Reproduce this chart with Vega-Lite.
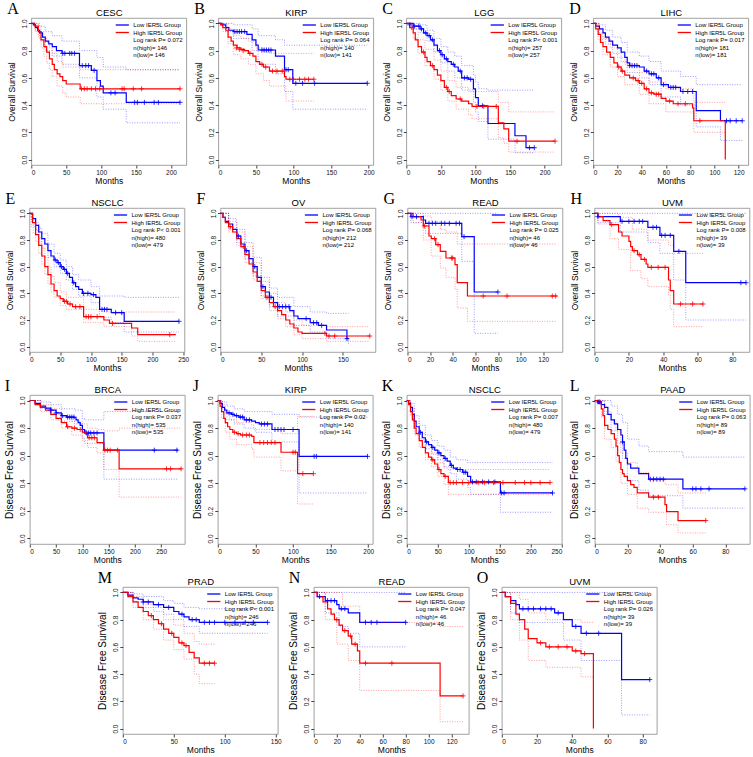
{
"$schema":"https://vega.github.io/schema/vega-lite/v6.json",
"padding":{"left":4,"top":0,"right":2,"bottom":0},
"background":"white",
"config":{
"view":{"stroke":"#8a8a8a","strokeWidth":0.8},
"range":{"category":["#0000ff","#ff0000","transparent","transparent","transparent"]},
"title":{"anchor":"start","frame":"bounds","font":"Liberation Serif","fontSize":16,"fontWeight":"normal","offset":-10,"color":"#000"},
"axis":{"labelFont":"Liberation Sans","labelFontSize":6.5,"titleFont":"Liberation Sans","titleFontSize":8.5,"titleFontWeight":"normal","tickSize":3,"tickColor":"#444","labelColor":"#111","titleColor":"#000","domain":false,"grid":false,"labelPadding":1},
"axisX":{"titlePadding":1},
"axisY":{"labelAngle":270,"labelAlign":"center","labelBaseline":"bottom","titlePadding":5},
"legend":{"orient":"top-right","offset":3,"padding":0,"labelFont":"Liberation Sans","labelFontSize":6,"labelColor":"#000","symbolType":"M-2.2,0H2.2","symbolSize":36,"symbolStrokeWidth":1.3,"symbolOpacity":1,"rowPadding":0.5,"labelOffset":7,"labelLimit":0}
},
"datasets":{
"km":[
{"p":"A","g":"L","t":0,"s":1},{"p":"A","g":"L","t":3,"s":0.99},{"p":"A","g":"L","t":6,"s":0.97},{"p":"A","g":"L","t":9,"s":0.95},{"p":"A","g":"L","t":12,"s":0.93},{"p":"A","g":"L","t":16,"s":0.9},{"p":"A","g":"L","t":20,"s":0.87},{"p":"A","g":"L","t":25,"s":0.85},{"p":"A","g":"L","t":30,"s":0.83},{"p":"A","g":"L","t":36,"s":0.8},{"p":"A","g":"L","t":44,"s":0.78},{"p":"A","g":"L","t":69,"s":0.69},{"p":"A","g":"L","t":86,"s":0.655},{"p":"A","g":"L","t":94,"s":0.58},{"p":"A","g":"L","t":99,"s":0.54},{"p":"A","g":"L","t":103,"s":0.49},{"p":"A","g":"L","t":136,"s":0.42},{"p":"A","g":"L","t":213,"s":0.42},
{"p":"A","g":"H","t":0,"s":1},{"p":"A","g":"H","t":5,"s":0.98},{"p":"A","g":"H","t":10,"s":0.94},{"p":"A","g":"H","t":14,"s":0.88},{"p":"A","g":"H","t":18,"s":0.83},{"p":"A","g":"H","t":22,"s":0.79},{"p":"A","g":"H","t":26,"s":0.74},{"p":"A","g":"H","t":30,"s":0.7},{"p":"A","g":"H","t":33,"s":0.66},{"p":"A","g":"H","t":37,"s":0.63},{"p":"A","g":"H","t":41,"s":0.61},{"p":"A","g":"H","t":45,"s":0.58},{"p":"A","g":"H","t":50,"s":0.555},{"p":"A","g":"H","t":70,"s":0.52},{"p":"A","g":"H","t":213,"s":0.52},
{"p":"B","g":"L","t":0,"s":1},{"p":"B","g":"L","t":5,"s":0.99},{"p":"B","g":"L","t":10,"s":0.97},{"p":"B","g":"L","t":14,"s":0.95},{"p":"B","g":"L","t":20,"s":0.94},{"p":"B","g":"L","t":38,"s":0.92},{"p":"B","g":"L","t":45,"s":0.88},{"p":"B","g":"L","t":50,"s":0.84},{"p":"B","g":"L","t":53,"s":0.805},{"p":"B","g":"L","t":76,"s":0.76},{"p":"B","g":"L","t":88,"s":0.66},{"p":"B","g":"L","t":99,"s":0.56},{"p":"B","g":"L","t":198,"s":0.56},
{"p":"B","g":"H","t":0,"s":1},{"p":"B","g":"H","t":3,"s":0.99},{"p":"B","g":"H","t":6,"s":0.97},{"p":"B","g":"H","t":10,"s":0.95},{"p":"B","g":"H","t":13,"s":0.9},{"p":"B","g":"H","t":17,"s":0.87},{"p":"B","g":"H","t":20,"s":0.84},{"p":"B","g":"H","t":25,"s":0.82},{"p":"B","g":"H","t":30,"s":0.81},{"p":"B","g":"H","t":35,"s":0.8},{"p":"B","g":"H","t":40,"s":0.78},{"p":"B","g":"H","t":46,"s":0.76},{"p":"B","g":"H","t":50,"s":0.72},{"p":"B","g":"H","t":55,"s":0.7},{"p":"B","g":"H","t":60,"s":0.68},{"p":"B","g":"H","t":68,"s":0.65},{"p":"B","g":"H","t":88,"s":0.61},{"p":"B","g":"H","t":90,"s":0.59},{"p":"B","g":"H","t":127,"s":0.59},
{"p":"C","g":"L","t":0,"s":1},{"p":"C","g":"L","t":10,"s":0.98},{"p":"C","g":"L","t":20,"s":0.96},{"p":"C","g":"L","t":25,"s":0.93},{"p":"C","g":"L","t":30,"s":0.91},{"p":"C","g":"L","t":35,"s":0.88},{"p":"C","g":"L","t":40,"s":0.84},{"p":"C","g":"L","t":45,"s":0.8},{"p":"C","g":"L","t":50,"s":0.77},{"p":"C","g":"L","t":55,"s":0.74},{"p":"C","g":"L","t":60,"s":0.72},{"p":"C","g":"L","t":65,"s":0.7},{"p":"C","g":"L","t":70,"s":0.68},{"p":"C","g":"L","t":75,"s":0.65},{"p":"C","g":"L","t":80,"s":0.6},{"p":"C","g":"L","t":90,"s":0.59},{"p":"C","g":"L","t":97,"s":0.52},{"p":"C","g":"L","t":100,"s":0.455},{"p":"C","g":"L","t":104,"s":0.395},{"p":"C","g":"L","t":118,"s":0.265},{"p":"C","g":"L","t":157,"s":0.175},{"p":"C","g":"L","t":173,"s":0.087},{"p":"C","g":"L","t":185,"s":0.087},
{"p":"C","g":"H","t":0,"s":1},{"p":"C","g":"H","t":5,"s":0.97},{"p":"C","g":"H","t":10,"s":0.93},{"p":"C","g":"H","t":13,"s":0.88},{"p":"C","g":"H","t":17,"s":0.83},{"p":"C","g":"H","t":22,"s":0.79},{"p":"C","g":"H","t":27,"s":0.75},{"p":"C","g":"H","t":30,"s":0.72},{"p":"C","g":"H","t":35,"s":0.69},{"p":"C","g":"H","t":40,"s":0.66},{"p":"C","g":"H","t":45,"s":0.62},{"p":"C","g":"H","t":50,"s":0.58},{"p":"C","g":"H","t":55,"s":0.53},{"p":"C","g":"H","t":60,"s":0.5},{"p":"C","g":"H","t":65,"s":0.47},{"p":"C","g":"H","t":72,"s":0.445},{"p":"C","g":"H","t":80,"s":0.43},{"p":"C","g":"H","t":90,"s":0.41},{"p":"C","g":"H","t":95,"s":0.39},{"p":"C","g":"H","t":133,"s":0.27},{"p":"C","g":"H","t":141,"s":0.225},{"p":"C","g":"H","t":148,"s":0.135},{"p":"C","g":"H","t":215,"s":0.135},
{"p":"D","g":"L","t":0,"s":1},{"p":"D","g":"L","t":2,"s":0.98},{"p":"D","g":"L","t":5,"s":0.96},{"p":"D","g":"L","t":8,"s":0.93},{"p":"D","g":"L","t":10,"s":0.9},{"p":"D","g":"L","t":13,"s":0.87},{"p":"D","g":"L","t":16,"s":0.84},{"p":"D","g":"L","t":20,"s":0.82},{"p":"D","g":"L","t":23,"s":0.79},{"p":"D","g":"L","t":26,"s":0.75},{"p":"D","g":"L","t":28,"s":0.71},{"p":"D","g":"L","t":30,"s":0.69},{"p":"D","g":"L","t":38,"s":0.68},{"p":"D","g":"L","t":42,"s":0.65},{"p":"D","g":"L","t":46,"s":0.63},{"p":"D","g":"L","t":52,"s":0.6},{"p":"D","g":"L","t":56,"s":0.55},{"p":"D","g":"L","t":62,"s":0.53},{"p":"D","g":"L","t":72,"s":0.5},{"p":"D","g":"L","t":85,"s":0.36},{"p":"D","g":"L","t":105,"s":0.285},{"p":"D","g":"L","t":123,"s":0.285},
{"p":"D","g":"H","t":0,"s":1},{"p":"D","g":"H","t":2,"s":0.96},{"p":"D","g":"H","t":4,"s":0.92},{"p":"D","g":"H","t":6,"s":0.86},{"p":"D","g":"H","t":8,"s":0.83},{"p":"D","g":"H","t":11,"s":0.79},{"p":"D","g":"H","t":14,"s":0.75},{"p":"D","g":"H","t":17,"s":0.71},{"p":"D","g":"H","t":20,"s":0.68},{"p":"D","g":"H","t":23,"s":0.65},{"p":"D","g":"H","t":26,"s":0.62},{"p":"D","g":"H","t":30,"s":0.6},{"p":"D","g":"H","t":35,"s":0.58},{"p":"D","g":"H","t":38,"s":0.56},{"p":"D","g":"H","t":42,"s":0.52},{"p":"D","g":"H","t":46,"s":0.49},{"p":"D","g":"H","t":50,"s":0.48},{"p":"D","g":"H","t":56,"s":0.45},{"p":"D","g":"H","t":60,"s":0.43},{"p":"D","g":"H","t":66,"s":0.41},{"p":"D","g":"H","t":82,"s":0.38},{"p":"D","g":"H","t":83,"s":0.285},{"p":"D","g":"H","t":109,"s":0},
{"p":"E","g":"L","t":0,"s":1},{"p":"E","g":"L","t":5,"s":0.96},{"p":"E","g":"L","t":10,"s":0.91},{"p":"E","g":"L","t":15,"s":0.86},{"p":"E","g":"L","t":20,"s":0.81},{"p":"E","g":"L","t":25,"s":0.77},{"p":"E","g":"L","t":30,"s":0.72},{"p":"E","g":"L","t":35,"s":0.68},{"p":"E","g":"L","t":40,"s":0.65},{"p":"E","g":"L","t":45,"s":0.63},{"p":"E","g":"L","t":50,"s":0.6},{"p":"E","g":"L","t":55,"s":0.58},{"p":"E","g":"L","t":60,"s":0.55},{"p":"E","g":"L","t":65,"s":0.52},{"p":"E","g":"L","t":70,"s":0.48},{"p":"E","g":"L","t":75,"s":0.45},{"p":"E","g":"L","t":80,"s":0.43},{"p":"E","g":"L","t":86,"s":0.4},{"p":"E","g":"L","t":100,"s":0.39},{"p":"E","g":"L","t":108,"s":0.37},{"p":"E","g":"L","t":114,"s":0.28},{"p":"E","g":"L","t":133,"s":0.255},{"p":"E","g":"L","t":154,"s":0.19},{"p":"E","g":"L","t":243,"s":0.19},
{"p":"E","g":"H","t":0,"s":1},{"p":"E","g":"H","t":5,"s":0.93},{"p":"E","g":"H","t":10,"s":0.84},{"p":"E","g":"H","t":15,"s":0.76},{"p":"E","g":"H","t":20,"s":0.68},{"p":"E","g":"H","t":25,"s":0.6},{"p":"E","g":"H","t":30,"s":0.54},{"p":"E","g":"H","t":35,"s":0.47},{"p":"E","g":"H","t":40,"s":0.42},{"p":"E","g":"H","t":45,"s":0.38},{"p":"E","g":"H","t":50,"s":0.36},{"p":"E","g":"H","t":55,"s":0.34},{"p":"E","g":"H","t":62,"s":0.32},{"p":"E","g":"H","t":70,"s":0.3},{"p":"E","g":"H","t":88,"s":0.225},{"p":"E","g":"H","t":121,"s":0.2},{"p":"E","g":"H","t":130,"s":0.175},{"p":"E","g":"H","t":166,"s":0.14},{"p":"E","g":"H","t":176,"s":0.09},{"p":"E","g":"H","t":238,"s":0.09},
{"p":"F","g":"L","t":0,"s":1},{"p":"F","g":"L","t":3,"s":0.97},{"p":"F","g":"L","t":6,"s":0.94},{"p":"F","g":"L","t":10,"s":0.92},{"p":"F","g":"L","t":15,"s":0.88},{"p":"F","g":"L","t":20,"s":0.83},{"p":"F","g":"L","t":25,"s":0.77},{"p":"F","g":"L","t":30,"s":0.72},{"p":"F","g":"L","t":35,"s":0.66},{"p":"F","g":"L","t":40,"s":0.6},{"p":"F","g":"L","t":45,"s":0.52},{"p":"F","g":"L","t":50,"s":0.45},{"p":"F","g":"L","t":55,"s":0.41},{"p":"F","g":"L","t":60,"s":0.37},{"p":"F","g":"L","t":65,"s":0.33},{"p":"F","g":"L","t":70,"s":0.3},{"p":"F","g":"L","t":85,"s":0.27},{"p":"F","g":"L","t":90,"s":0.23},{"p":"F","g":"L","t":95,"s":0.21},{"p":"F","g":"L","t":110,"s":0.18},{"p":"F","g":"L","t":120,"s":0.16},{"p":"F","g":"L","t":130,"s":0.125},{"p":"F","g":"L","t":155,"s":0.06},{"p":"F","g":"L","t":157,"s":0.06},
{"p":"F","g":"H","t":0,"s":1},{"p":"F","g":"H","t":3,"s":0.97},{"p":"F","g":"H","t":6,"s":0.93},{"p":"F","g":"H","t":10,"s":0.9},{"p":"F","g":"H","t":15,"s":0.86},{"p":"F","g":"H","t":20,"s":0.81},{"p":"F","g":"H","t":25,"s":0.75},{"p":"F","g":"H","t":30,"s":0.69},{"p":"F","g":"H","t":35,"s":0.62},{"p":"F","g":"H","t":40,"s":0.56},{"p":"F","g":"H","t":45,"s":0.49},{"p":"F","g":"H","t":50,"s":0.42},{"p":"F","g":"H","t":55,"s":0.37},{"p":"F","g":"H","t":60,"s":0.33},{"p":"F","g":"H","t":65,"s":0.3},{"p":"F","g":"H","t":70,"s":0.27},{"p":"F","g":"H","t":75,"s":0.24},{"p":"F","g":"H","t":80,"s":0.2},{"p":"F","g":"H","t":85,"s":0.17},{"p":"F","g":"H","t":90,"s":0.14},{"p":"F","g":"H","t":95,"s":0.11},{"p":"F","g":"H","t":100,"s":0.1},{"p":"F","g":"H","t":130,"s":0.08},{"p":"F","g":"H","t":183,"s":0.08},
{"p":"G","g":"L","t":0,"s":1},{"p":"G","g":"L","t":3,"s":0.975},{"p":"G","g":"L","t":14,"s":0.95},{"p":"G","g":"L","t":16,"s":0.925},{"p":"G","g":"L","t":48,"s":0.825},{"p":"G","g":"L","t":59,"s":0.41},{"p":"G","g":"L","t":80,"s":0.41},
{"p":"G","g":"H","t":0,"s":1},{"p":"G","g":"H","t":5,"s":0.975},{"p":"G","g":"H","t":12,"s":0.95},{"p":"G","g":"H","t":14,"s":0.905},{"p":"G","g":"H","t":19,"s":0.83},{"p":"G","g":"H","t":21,"s":0.81},{"p":"G","g":"H","t":25,"s":0.765},{"p":"G","g":"H","t":29,"s":0.715},{"p":"G","g":"H","t":34,"s":0.665},{"p":"G","g":"H","t":42,"s":0.615},{"p":"G","g":"H","t":44,"s":0.48},{"p":"G","g":"H","t":53,"s":0.38},{"p":"G","g":"H","t":132,"s":0.38},
{"p":"H","g":"L","t":0,"s":1},{"p":"H","g":"L","t":2,"s":0.975},{"p":"H","g":"L","t":15,"s":0.94},{"p":"H","g":"L","t":31,"s":0.895},{"p":"H","g":"L","t":38,"s":0.835},{"p":"H","g":"L","t":46,"s":0.715},{"p":"H","g":"L","t":53,"s":0.48},{"p":"H","g":"L","t":88,"s":0.48},
{"p":"H","g":"H","t":0,"s":1},{"p":"H","g":"H","t":2,"s":0.975},{"p":"H","g":"H","t":5,"s":0.945},{"p":"H","g":"H","t":9,"s":0.915},{"p":"H","g":"H","t":14,"s":0.86},{"p":"H","g":"H","t":16,"s":0.83},{"p":"H","g":"H","t":20,"s":0.79},{"p":"H","g":"H","t":21,"s":0.75},{"p":"H","g":"H","t":22,"s":0.72},{"p":"H","g":"H","t":25,"s":0.69},{"p":"H","g":"H","t":27,"s":0.655},{"p":"H","g":"H","t":30,"s":0.62},{"p":"H","g":"H","t":31,"s":0.595},{"p":"H","g":"H","t":43,"s":0.5},{"p":"H","g":"H","t":44,"s":0.42},{"p":"H","g":"H","t":46,"s":0.32},{"p":"H","g":"H","t":63,"s":0.32},
{"p":"I","g":"L","t":0,"s":1},{"p":"I","g":"L","t":10,"s":0.98},{"p":"I","g":"L","t":20,"s":0.96},{"p":"I","g":"L","t":30,"s":0.945},{"p":"I","g":"L","t":40,"s":0.93},{"p":"I","g":"L","t":50,"s":0.91},{"p":"I","g":"L","t":60,"s":0.89},{"p":"I","g":"L","t":70,"s":0.88},{"p":"I","g":"L","t":85,"s":0.875},{"p":"I","g":"L","t":88,"s":0.86},{"p":"I","g":"L","t":92,"s":0.84},{"p":"I","g":"L","t":96,"s":0.82},{"p":"I","g":"L","t":100,"s":0.79},{"p":"I","g":"L","t":104,"s":0.765},{"p":"I","g":"L","t":141,"s":0.64},{"p":"I","g":"L","t":282,"s":0.64},
{"p":"I","g":"H","t":0,"s":1},{"p":"I","g":"H","t":10,"s":0.97},{"p":"I","g":"H","t":20,"s":0.95},{"p":"I","g":"H","t":30,"s":0.93},{"p":"I","g":"H","t":40,"s":0.9},{"p":"I","g":"H","t":50,"s":0.87},{"p":"I","g":"H","t":60,"s":0.84},{"p":"I","g":"H","t":70,"s":0.81},{"p":"I","g":"H","t":80,"s":0.8},{"p":"I","g":"H","t":90,"s":0.79},{"p":"I","g":"H","t":100,"s":0.77},{"p":"I","g":"H","t":110,"s":0.73},{"p":"I","g":"H","t":128,"s":0.695},{"p":"I","g":"H","t":141,"s":0.64},{"p":"I","g":"H","t":170,"s":0.505},{"p":"I","g":"H","t":288,"s":0.505},
{"p":"J","g":"L","t":0,"s":1},{"p":"J","g":"L","t":3,"s":0.98},{"p":"J","g":"L","t":6,"s":0.95},{"p":"J","g":"L","t":9,"s":0.93},{"p":"J","g":"L","t":12,"s":0.91},{"p":"J","g":"L","t":18,"s":0.9},{"p":"J","g":"L","t":22,"s":0.89},{"p":"J","g":"L","t":28,"s":0.88},{"p":"J","g":"L","t":35,"s":0.86},{"p":"J","g":"L","t":45,"s":0.85},{"p":"J","g":"L","t":50,"s":0.84},{"p":"J","g":"L","t":55,"s":0.83},{"p":"J","g":"L","t":72,"s":0.79},{"p":"J","g":"L","t":108,"s":0.595},{"p":"J","g":"L","t":199,"s":0.595},
{"p":"J","g":"H","t":0,"s":1},{"p":"J","g":"H","t":3,"s":0.96},{"p":"J","g":"H","t":5,"s":0.92},{"p":"J","g":"H","t":8,"s":0.87},{"p":"J","g":"H","t":10,"s":0.84},{"p":"J","g":"H","t":13,"s":0.81},{"p":"J","g":"H","t":16,"s":0.79},{"p":"J","g":"H","t":20,"s":0.77},{"p":"J","g":"H","t":25,"s":0.76},{"p":"J","g":"H","t":30,"s":0.75},{"p":"J","g":"H","t":45,"s":0.74},{"p":"J","g":"H","t":48,"s":0.695},{"p":"J","g":"H","t":84,"s":0.625},{"p":"J","g":"H","t":106,"s":0.47},{"p":"J","g":"H","t":127,"s":0.47},
{"p":"K","g":"L","t":0,"s":1},{"p":"K","g":"L","t":3,"s":0.98},{"p":"K","g":"L","t":6,"s":0.95},{"p":"K","g":"L","t":9,"s":0.9},{"p":"K","g":"L","t":12,"s":0.85},{"p":"K","g":"L","t":15,"s":0.81},{"p":"K","g":"L","t":20,"s":0.77},{"p":"K","g":"L","t":25,"s":0.73},{"p":"K","g":"L","t":30,"s":0.7},{"p":"K","g":"L","t":35,"s":0.68},{"p":"K","g":"L","t":40,"s":0.66},{"p":"K","g":"L","t":45,"s":0.64},{"p":"K","g":"L","t":50,"s":0.62},{"p":"K","g":"L","t":55,"s":0.6},{"p":"K","g":"L","t":60,"s":0.58},{"p":"K","g":"L","t":65,"s":0.56},{"p":"K","g":"L","t":70,"s":0.53},{"p":"K","g":"L","t":75,"s":0.51},{"p":"K","g":"L","t":80,"s":0.5},{"p":"K","g":"L","t":90,"s":0.48},{"p":"K","g":"L","t":98,"s":0.45},{"p":"K","g":"L","t":103,"s":0.41},{"p":"K","g":"L","t":151,"s":0.33},{"p":"K","g":"L","t":235,"s":0.33},
{"p":"K","g":"H","t":0,"s":1},{"p":"K","g":"H","t":3,"s":0.97},{"p":"K","g":"H","t":6,"s":0.92},{"p":"K","g":"H","t":9,"s":0.86},{"p":"K","g":"H","t":12,"s":0.8},{"p":"K","g":"H","t":15,"s":0.76},{"p":"K","g":"H","t":20,"s":0.71},{"p":"K","g":"H","t":25,"s":0.66},{"p":"K","g":"H","t":30,"s":0.62},{"p":"K","g":"H","t":35,"s":0.59},{"p":"K","g":"H","t":40,"s":0.57},{"p":"K","g":"H","t":45,"s":0.54},{"p":"K","g":"H","t":50,"s":0.5},{"p":"K","g":"H","t":55,"s":0.47},{"p":"K","g":"H","t":60,"s":0.45},{"p":"K","g":"H","t":67,"s":0.405},{"p":"K","g":"H","t":231,"s":0.405},
{"p":"L","g":"L","t":0,"s":1},{"p":"L","g":"L","t":2,"s":0.99},{"p":"L","g":"L","t":4,"s":0.97},{"p":"L","g":"L","t":6,"s":0.95},{"p":"L","g":"L","t":8,"s":0.9},{"p":"L","g":"L","t":10,"s":0.86},{"p":"L","g":"L","t":12,"s":0.83},{"p":"L","g":"L","t":14,"s":0.79},{"p":"L","g":"L","t":16,"s":0.75},{"p":"L","g":"L","t":17,"s":0.7},{"p":"L","g":"L","t":18,"s":0.64},{"p":"L","g":"L","t":19,"s":0.58},{"p":"L","g":"L","t":20,"s":0.54},{"p":"L","g":"L","t":22,"s":0.51},{"p":"L","g":"L","t":27,"s":0.47},{"p":"L","g":"L","t":33,"s":0.43},{"p":"L","g":"L","t":54,"s":0.36},{"p":"L","g":"L","t":92,"s":0.36},
{"p":"L","g":"H","t":0,"s":1},{"p":"L","g":"H","t":2,"s":0.98},{"p":"L","g":"H","t":4,"s":0.94},{"p":"L","g":"H","t":5,"s":0.89},{"p":"L","g":"H","t":6,"s":0.82},{"p":"L","g":"H","t":8,"s":0.79},{"p":"L","g":"H","t":10,"s":0.76},{"p":"L","g":"H","t":12,"s":0.72},{"p":"L","g":"H","t":13,"s":0.67},{"p":"L","g":"H","t":14,"s":0.6},{"p":"L","g":"H","t":15,"s":0.55},{"p":"L","g":"H","t":16,"s":0.5},{"p":"L","g":"H","t":17,"s":0.47},{"p":"L","g":"H","t":18,"s":0.45},{"p":"L","g":"H","t":20,"s":0.42},{"p":"L","g":"H","t":22,"s":0.39},{"p":"L","g":"H","t":24,"s":0.37},{"p":"L","g":"H","t":26,"s":0.33},{"p":"L","g":"H","t":33,"s":0.3},{"p":"L","g":"H","t":43,"s":0.245},{"p":"L","g":"H","t":44,"s":0.195},{"p":"L","g":"H","t":51,"s":0.13},{"p":"L","g":"H","t":68,"s":0.13},
{"p":"M","g":"L","t":0,"s":1},{"p":"M","g":"L","t":5,"s":0.98},{"p":"M","g":"L","t":10,"s":0.96},{"p":"M","g":"L","t":15,"s":0.95},{"p":"M","g":"L","t":20,"s":0.93},{"p":"M","g":"L","t":30,"s":0.91},{"p":"M","g":"L","t":40,"s":0.89},{"p":"M","g":"L","t":50,"s":0.86},{"p":"M","g":"L","t":55,"s":0.84},{"p":"M","g":"L","t":60,"s":0.82},{"p":"M","g":"L","t":65,"s":0.8},{"p":"M","g":"L","t":75,"s":0.78},{"p":"M","g":"L","t":142,"s":0.78},
{"p":"M","g":"H","t":0,"s":1},{"p":"M","g":"H","t":5,"s":0.97},{"p":"M","g":"H","t":10,"s":0.93},{"p":"M","g":"H","t":15,"s":0.89},{"p":"M","g":"H","t":20,"s":0.86},{"p":"M","g":"H","t":25,"s":0.83},{"p":"M","g":"H","t":30,"s":0.8},{"p":"M","g":"H","t":35,"s":0.77},{"p":"M","g":"H","t":40,"s":0.73},{"p":"M","g":"H","t":45,"s":0.7},{"p":"M","g":"H","t":50,"s":0.67},{"p":"M","g":"H","t":55,"s":0.63},{"p":"M","g":"H","t":60,"s":0.61},{"p":"M","g":"H","t":65,"s":0.56},{"p":"M","g":"H","t":70,"s":0.52},{"p":"M","g":"H","t":75,"s":0.48},{"p":"M","g":"H","t":90,"s":0.48},
{"p":"N","g":"L","t":0,"s":1},{"p":"N","g":"L","t":3,"s":0.97},{"p":"N","g":"L","t":10,"s":0.94},{"p":"N","g":"L","t":20,"s":0.91},{"p":"N","g":"L","t":22,"s":0.88},{"p":"N","g":"L","t":30,"s":0.85},{"p":"N","g":"L","t":40,"s":0.78},{"p":"N","g":"L","t":80,"s":0.78},
{"p":"N","g":"H","t":0,"s":1},{"p":"N","g":"H","t":3,"s":0.97},{"p":"N","g":"H","t":8,"s":0.93},{"p":"N","g":"H","t":12,"s":0.88},{"p":"N","g":"H","t":15,"s":0.84},{"p":"N","g":"H","t":18,"s":0.8},{"p":"N","g":"H","t":22,"s":0.76},{"p":"N","g":"H","t":25,"s":0.72},{"p":"N","g":"H","t":30,"s":0.68},{"p":"N","g":"H","t":33,"s":0.62},{"p":"N","g":"H","t":38,"s":0.57},{"p":"N","g":"H","t":40,"s":0.48},{"p":"N","g":"H","t":110,"s":0.24},{"p":"N","g":"H","t":130,"s":0.24},
{"p":"O","g":"L","t":0,"s":1},{"p":"O","g":"L","t":2,"s":0.97},{"p":"O","g":"L","t":5,"s":0.94},{"p":"O","g":"L","t":8,"s":0.91},{"p":"O","g":"L","t":10,"s":0.88},{"p":"O","g":"L","t":30,"s":0.85},{"p":"O","g":"L","t":35,"s":0.8},{"p":"O","g":"L","t":40,"s":0.75},{"p":"O","g":"L","t":45,"s":0.7},{"p":"O","g":"L","t":68,"s":0.36},{"p":"O","g":"L","t":84,"s":0.36},
{"p":"O","g":"H","t":0,"s":1},{"p":"O","g":"H","t":2,"s":0.97},{"p":"O","g":"H","t":5,"s":0.92},{"p":"O","g":"H","t":8,"s":0.84},{"p":"O","g":"H","t":10,"s":0.8},{"p":"O","g":"H","t":13,"s":0.73},{"p":"O","g":"H","t":15,"s":0.66},{"p":"O","g":"H","t":20,"s":0.63},{"p":"O","g":"H","t":25,"s":0.6},{"p":"O","g":"H","t":40,"s":0.57},{"p":"O","g":"H","t":45,"s":0.55},{"p":"O","g":"H","t":52,"s":0}
],
"ci":[
{"p":"A","g":"L","b":"u","t":0,"s":1},{"p":"A","g":"L","b":"u","t":6,"s":1},{"p":"A","g":"L","b":"u","t":12,"s":0.98},{"p":"A","g":"L","b":"u","t":20,"s":0.94},{"p":"A","g":"L","b":"u","t":30,"s":0.91},{"p":"A","g":"L","b":"u","t":44,"s":0.87},{"p":"A","g":"L","b":"u","t":69,"s":0.8},{"p":"A","g":"L","b":"u","t":94,"s":0.75},{"p":"A","g":"L","b":"u","t":103,"s":0.68},{"p":"A","g":"L","b":"u","t":136,"s":0.66},{"p":"A","g":"L","b":"u","t":213,"s":0.66},
{"p":"A","g":"L","b":"d","t":0,"s":1},{"p":"A","g":"L","b":"d","t":6,"s":0.94},{"p":"A","g":"L","b":"d","t":12,"s":0.88},{"p":"A","g":"L","b":"d","t":20,"s":0.8},{"p":"A","g":"L","b":"d","t":30,"s":0.76},{"p":"A","g":"L","b":"d","t":44,"s":0.7},{"p":"A","g":"L","b":"d","t":69,"s":0.6},{"p":"A","g":"L","b":"d","t":94,"s":0.46},{"p":"A","g":"L","b":"d","t":103,"s":0.37},{"p":"A","g":"L","b":"d","t":136,"s":0.27},{"p":"A","g":"L","b":"d","t":213,"s":0.27},
{"p":"A","g":"H","b":"u","t":0,"s":1},{"p":"A","g":"H","b":"u","t":5,"s":1},{"p":"A","g":"H","b":"u","t":10,"s":0.98},{"p":"A","g":"H","b":"u","t":14,"s":0.94},{"p":"A","g":"H","b":"u","t":18,"s":0.9},{"p":"A","g":"H","b":"u","t":22,"s":0.86},{"p":"A","g":"H","b":"u","t":26,"s":0.82},{"p":"A","g":"H","b":"u","t":30,"s":0.78},{"p":"A","g":"H","b":"u","t":37,"s":0.72},{"p":"A","g":"H","b":"u","t":45,"s":0.68},{"p":"A","g":"H","b":"u","t":70,"s":0.66},{"p":"A","g":"H","b":"u","t":213,"s":0.66},
{"p":"A","g":"H","b":"d","t":0,"s":1},{"p":"A","g":"H","b":"d","t":5,"s":0.95},{"p":"A","g":"H","b":"d","t":10,"s":0.9},{"p":"A","g":"H","b":"d","t":14,"s":0.82},{"p":"A","g":"H","b":"d","t":18,"s":0.76},{"p":"A","g":"H","b":"d","t":22,"s":0.71},{"p":"A","g":"H","b":"d","t":26,"s":0.66},{"p":"A","g":"H","b":"d","t":30,"s":0.61},{"p":"A","g":"H","b":"d","t":37,"s":0.54},{"p":"A","g":"H","b":"d","t":45,"s":0.49},{"p":"A","g":"H","b":"d","t":50,"s":0.46},{"p":"A","g":"H","b":"d","t":70,"s":0.41},{"p":"A","g":"H","b":"d","t":213,"s":0.41},
{"p":"B","g":"L","b":"u","t":0,"s":1},{"p":"B","g":"L","b":"u","t":10,"s":1},{"p":"B","g":"L","b":"u","t":20,"s":0.99},{"p":"B","g":"L","b":"u","t":45,"s":0.96},{"p":"B","g":"L","b":"u","t":53,"s":0.91},{"p":"B","g":"L","b":"u","t":76,"s":0.88},{"p":"B","g":"L","b":"u","t":88,"s":0.84},{"p":"B","g":"L","b":"u","t":198,"s":0.84},
{"p":"B","g":"L","b":"d","t":0,"s":1},{"p":"B","g":"L","b":"d","t":10,"s":0.94},{"p":"B","g":"L","b":"d","t":20,"s":0.89},{"p":"B","g":"L","b":"d","t":45,"s":0.8},{"p":"B","g":"L","b":"d","t":53,"s":0.7},{"p":"B","g":"L","b":"d","t":76,"s":0.63},{"p":"B","g":"L","b":"d","t":88,"s":0.5},{"p":"B","g":"L","b":"d","t":99,"s":0.37},{"p":"B","g":"L","b":"d","t":198,"s":0.37},
{"p":"B","g":"H","b":"u","t":0,"s":1},{"p":"B","g":"H","b":"u","t":6,"s":1},{"p":"B","g":"H","b":"u","t":13,"s":0.96},{"p":"B","g":"H","b":"u","t":20,"s":0.91},{"p":"B","g":"H","b":"u","t":30,"s":0.89},{"p":"B","g":"H","b":"u","t":40,"s":0.87},{"p":"B","g":"H","b":"u","t":50,"s":0.82},{"p":"B","g":"H","b":"u","t":60,"s":0.79},{"p":"B","g":"H","b":"u","t":68,"s":0.78},{"p":"B","g":"H","b":"u","t":127,"s":0.78},
{"p":"B","g":"H","b":"d","t":0,"s":1},{"p":"B","g":"H","b":"d","t":6,"s":0.94},{"p":"B","g":"H","b":"d","t":13,"s":0.85},{"p":"B","g":"H","b":"d","t":20,"s":0.77},{"p":"B","g":"H","b":"d","t":30,"s":0.74},{"p":"B","g":"H","b":"d","t":40,"s":0.7},{"p":"B","g":"H","b":"d","t":50,"s":0.63},{"p":"B","g":"H","b":"d","t":60,"s":0.58},{"p":"B","g":"H","b":"d","t":68,"s":0.54},{"p":"B","g":"H","b":"d","t":90,"s":0.43},{"p":"B","g":"H","b":"d","t":127,"s":0.43},
{"p":"C","g":"L","b":"u","t":0,"s":1},{"p":"C","g":"L","b":"u","t":20,"s":0.99},{"p":"C","g":"L","b":"u","t":30,"s":0.95},{"p":"C","g":"L","b":"u","t":40,"s":0.89},{"p":"C","g":"L","b":"u","t":50,"s":0.83},{"p":"C","g":"L","b":"u","t":60,"s":0.79},{"p":"C","g":"L","b":"u","t":70,"s":0.76},{"p":"C","g":"L","b":"u","t":80,"s":0.69},{"p":"C","g":"L","b":"u","t":97,"s":0.62},{"p":"C","g":"L","b":"u","t":100,"s":0.57},{"p":"C","g":"L","b":"u","t":104,"s":0.52},{"p":"C","g":"L","b":"u","t":118,"s":0.51},{"p":"C","g":"L","b":"u","t":185,"s":0.51},
{"p":"C","g":"L","b":"d","t":0,"s":1},{"p":"C","g":"L","b":"d","t":10,"s":0.96},{"p":"C","g":"L","b":"d","t":20,"s":0.93},{"p":"C","g":"L","b":"d","t":30,"s":0.87},{"p":"C","g":"L","b":"d","t":40,"s":0.79},{"p":"C","g":"L","b":"d","t":50,"s":0.71},{"p":"C","g":"L","b":"d","t":60,"s":0.65},{"p":"C","g":"L","b":"d","t":70,"s":0.6},{"p":"C","g":"L","b":"d","t":80,"s":0.51},{"p":"C","g":"L","b":"d","t":97,"s":0.42},{"p":"C","g":"L","b":"d","t":100,"s":0.35},{"p":"C","g":"L","b":"d","t":104,"s":0.28},{"p":"C","g":"L","b":"d","t":118,"s":0.15},{"p":"C","g":"L","b":"d","t":157,"s":0.05},{"p":"C","g":"L","b":"d","t":185,"s":0.05},
{"p":"C","g":"H","b":"u","t":0,"s":1},{"p":"C","g":"H","b":"u","t":10,"s":0.96},{"p":"C","g":"H","b":"u","t":17,"s":0.88},{"p":"C","g":"H","b":"u","t":27,"s":0.81},{"p":"C","g":"H","b":"u","t":40,"s":0.73},{"p":"C","g":"H","b":"u","t":50,"s":0.65},{"p":"C","g":"H","b":"u","t":60,"s":0.58},{"p":"C","g":"H","b":"u","t":72,"s":0.53},{"p":"C","g":"H","b":"u","t":90,"s":0.5},{"p":"C","g":"H","b":"u","t":133,"s":0.42},{"p":"C","g":"H","b":"u","t":148,"s":0.35},{"p":"C","g":"H","b":"u","t":215,"s":0.35},
{"p":"C","g":"H","b":"d","t":0,"s":1},{"p":"C","g":"H","b":"d","t":10,"s":0.89},{"p":"C","g":"H","b":"d","t":17,"s":0.78},{"p":"C","g":"H","b":"d","t":27,"s":0.69},{"p":"C","g":"H","b":"d","t":40,"s":0.59},{"p":"C","g":"H","b":"d","t":50,"s":0.51},{"p":"C","g":"H","b":"d","t":60,"s":0.43},{"p":"C","g":"H","b":"d","t":72,"s":0.37},{"p":"C","g":"H","b":"d","t":90,"s":0.33},{"p":"C","g":"H","b":"d","t":95,"s":0.3},{"p":"C","g":"H","b":"d","t":133,"s":0.16},{"p":"C","g":"H","b":"d","t":141,"s":0.12},{"p":"C","g":"H","b":"d","t":148,"s":0.055},{"p":"C","g":"H","b":"d","t":215,"s":0.055},
{"p":"D","g":"L","b":"u","t":0,"s":1},{"p":"D","g":"L","b":"u","t":5,"s":0.99},{"p":"D","g":"L","b":"u","t":10,"s":0.95},{"p":"D","g":"L","b":"u","t":16,"s":0.9},{"p":"D","g":"L","b":"u","t":23,"s":0.86},{"p":"D","g":"L","b":"u","t":28,"s":0.79},{"p":"D","g":"L","b":"u","t":38,"s":0.76},{"p":"D","g":"L","b":"u","t":46,"s":0.72},{"p":"D","g":"L","b":"u","t":56,"s":0.65},{"p":"D","g":"L","b":"u","t":72,"s":0.61},{"p":"D","g":"L","b":"u","t":85,"s":0.55},{"p":"D","g":"L","b":"u","t":123,"s":0.55},
{"p":"D","g":"L","b":"d","t":0,"s":1},{"p":"D","g":"L","b":"d","t":5,"s":0.93},{"p":"D","g":"L","b":"d","t":10,"s":0.85},{"p":"D","g":"L","b":"d","t":16,"s":0.78},{"p":"D","g":"L","b":"d","t":23,"s":0.72},{"p":"D","g":"L","b":"d","t":28,"s":0.64},{"p":"D","g":"L","b":"d","t":38,"s":0.6},{"p":"D","g":"L","b":"d","t":46,"s":0.55},{"p":"D","g":"L","b":"d","t":56,"s":0.46},{"p":"D","g":"L","b":"d","t":72,"s":0.4},{"p":"D","g":"L","b":"d","t":85,"s":0.24},{"p":"D","g":"L","b":"d","t":105,"s":0.14},{"p":"D","g":"L","b":"d","t":123,"s":0.14},
{"p":"D","g":"H","b":"u","t":0,"s":1},{"p":"D","g":"H","b":"u","t":4,"s":0.96},{"p":"D","g":"H","b":"u","t":8,"s":0.89},{"p":"D","g":"H","b":"u","t":14,"s":0.82},{"p":"D","g":"H","b":"u","t":20,"s":0.75},{"p":"D","g":"H","b":"u","t":26,"s":0.7},{"p":"D","g":"H","b":"u","t":38,"s":0.64},{"p":"D","g":"H","b":"u","t":46,"s":0.57},{"p":"D","g":"H","b":"u","t":60,"s":0.52},{"p":"D","g":"H","b":"u","t":83,"s":0.42},{"p":"D","g":"H","b":"u","t":109,"s":0.42},
{"p":"D","g":"H","b":"d","t":0,"s":1},{"p":"D","g":"H","b":"d","t":4,"s":0.88},{"p":"D","g":"H","b":"d","t":8,"s":0.77},{"p":"D","g":"H","b":"d","t":14,"s":0.68},{"p":"D","g":"H","b":"d","t":20,"s":0.61},{"p":"D","g":"H","b":"d","t":26,"s":0.55},{"p":"D","g":"H","b":"d","t":38,"s":0.48},{"p":"D","g":"H","b":"d","t":46,"s":0.41},{"p":"D","g":"H","b":"d","t":60,"s":0.35},{"p":"D","g":"H","b":"d","t":83,"s":0.2},{"p":"D","g":"H","b":"d","t":109,"s":0.2},
{"p":"E","g":"L","b":"u","t":0,"s":1},{"p":"E","g":"L","b":"u","t":3,"s":0.99},{"p":"E","g":"L","b":"u","t":6,"s":0.96},{"p":"E","g":"L","b":"u","t":10,"s":0.93},{"p":"E","g":"L","b":"u","t":15,"s":0.89},{"p":"E","g":"L","b":"u","t":20,"s":0.85},{"p":"E","g":"L","b":"u","t":30,"s":0.77},{"p":"E","g":"L","b":"u","t":40,"s":0.7},{"p":"E","g":"L","b":"u","t":50,"s":0.65},{"p":"E","g":"L","b":"u","t":60,"s":0.6},{"p":"E","g":"L","b":"u","t":70,"s":0.54},{"p":"E","g":"L","b":"u","t":80,"s":0.5},{"p":"E","g":"L","b":"u","t":100,"s":0.45},{"p":"E","g":"L","b":"u","t":114,"s":0.38},{"p":"E","g":"L","b":"u","t":154,"s":0.37},{"p":"E","g":"L","b":"u","t":243,"s":0.37},
{"p":"E","g":"L","b":"d","t":0,"s":1},{"p":"E","g":"L","b":"d","t":3,"s":0.94},{"p":"E","g":"L","b":"d","t":6,"s":0.9},{"p":"E","g":"L","b":"d","t":10,"s":0.87},{"p":"E","g":"L","b":"d","t":15,"s":0.82},{"p":"E","g":"L","b":"d","t":20,"s":0.77},{"p":"E","g":"L","b":"d","t":30,"s":0.67},{"p":"E","g":"L","b":"d","t":40,"s":0.6},{"p":"E","g":"L","b":"d","t":50,"s":0.55},{"p":"E","g":"L","b":"d","t":60,"s":0.5},{"p":"E","g":"L","b":"d","t":70,"s":0.43},{"p":"E","g":"L","b":"d","t":80,"s":0.38},{"p":"E","g":"L","b":"d","t":100,"s":0.33},{"p":"E","g":"L","b":"d","t":114,"s":0.22},{"p":"E","g":"L","b":"d","t":133,"s":0.18},{"p":"E","g":"L","b":"d","t":154,"s":0.11},{"p":"E","g":"L","b":"d","t":243,"s":0.11},
{"p":"E","g":"H","b":"u","t":0,"s":1},{"p":"E","g":"H","b":"u","t":3,"s":0.97},{"p":"E","g":"H","b":"u","t":6,"s":0.92},{"p":"E","g":"H","b":"u","t":10,"s":0.88},{"p":"E","g":"H","b":"u","t":15,"s":0.81},{"p":"E","g":"H","b":"u","t":20,"s":0.74},{"p":"E","g":"H","b":"u","t":25,"s":0.67},{"p":"E","g":"H","b":"u","t":30,"s":0.6},{"p":"E","g":"H","b":"u","t":35,"s":0.53},{"p":"E","g":"H","b":"u","t":40,"s":0.48},{"p":"E","g":"H","b":"u","t":50,"s":0.41},{"p":"E","g":"H","b":"u","t":60,"s":0.37},{"p":"E","g":"H","b":"u","t":88,"s":0.28},{"p":"E","g":"H","b":"u","t":121,"s":0.26},{"p":"E","g":"H","b":"u","t":238,"s":0.26},
{"p":"E","g":"H","b":"d","t":0,"s":1},{"p":"E","g":"H","b":"d","t":3,"s":0.9},{"p":"E","g":"H","b":"d","t":6,"s":0.85},{"p":"E","g":"H","b":"d","t":10,"s":0.79},{"p":"E","g":"H","b":"d","t":15,"s":0.7},{"p":"E","g":"H","b":"d","t":20,"s":0.62},{"p":"E","g":"H","b":"d","t":25,"s":0.54},{"p":"E","g":"H","b":"d","t":30,"s":0.47},{"p":"E","g":"H","b":"d","t":35,"s":0.41},{"p":"E","g":"H","b":"d","t":40,"s":0.37},{"p":"E","g":"H","b":"d","t":50,"s":0.31},{"p":"E","g":"H","b":"d","t":60,"s":0.28},{"p":"E","g":"H","b":"d","t":88,"s":0.18},{"p":"E","g":"H","b":"d","t":121,"s":0.15},{"p":"E","g":"H","b":"d","t":166,"s":0.08},{"p":"E","g":"H","b":"d","t":176,"s":0.04},{"p":"E","g":"H","b":"d","t":238,"s":0.04},
{"p":"F","g":"L","b":"u","t":0,"s":1},{"p":"F","g":"L","b":"u","t":10,"s":0.96},{"p":"F","g":"L","b":"u","t":20,"s":0.88},{"p":"F","g":"L","b":"u","t":30,"s":0.78},{"p":"F","g":"L","b":"u","t":40,"s":0.67},{"p":"F","g":"L","b":"u","t":50,"s":0.52},{"p":"F","g":"L","b":"u","t":60,"s":0.44},{"p":"F","g":"L","b":"u","t":70,"s":0.37},{"p":"F","g":"L","b":"u","t":90,"s":0.3},{"p":"F","g":"L","b":"u","t":110,"s":0.26},{"p":"F","g":"L","b":"u","t":130,"s":0.25},{"p":"F","g":"L","b":"u","t":157,"s":0.25},
{"p":"F","g":"L","b":"d","t":0,"s":1},{"p":"F","g":"L","b":"d","t":10,"s":0.88},{"p":"F","g":"L","b":"d","t":20,"s":0.78},{"p":"F","g":"L","b":"d","t":30,"s":0.66},{"p":"F","g":"L","b":"d","t":40,"s":0.53},{"p":"F","g":"L","b":"d","t":50,"s":0.38},{"p":"F","g":"L","b":"d","t":60,"s":0.3},{"p":"F","g":"L","b":"d","t":70,"s":0.23},{"p":"F","g":"L","b":"d","t":90,"s":0.16},{"p":"F","g":"L","b":"d","t":110,"s":0.11},{"p":"F","g":"L","b":"d","t":130,"s":0.06},{"p":"F","g":"L","b":"d","t":157,"s":0.02},
{"p":"F","g":"H","b":"u","t":0,"s":1},{"p":"F","g":"H","b":"u","t":10,"s":0.94},{"p":"F","g":"H","b":"u","t":20,"s":0.86},{"p":"F","g":"H","b":"u","t":30,"s":0.75},{"p":"F","g":"H","b":"u","t":40,"s":0.63},{"p":"F","g":"H","b":"u","t":50,"s":0.49},{"p":"F","g":"H","b":"u","t":60,"s":0.4},{"p":"F","g":"H","b":"u","t":70,"s":0.33},{"p":"F","g":"H","b":"u","t":80,"s":0.26},{"p":"F","g":"H","b":"u","t":90,"s":0.2},{"p":"F","g":"H","b":"u","t":100,"s":0.16},{"p":"F","g":"H","b":"u","t":130,"s":0.15},{"p":"F","g":"H","b":"u","t":183,"s":0.15},
{"p":"F","g":"H","b":"d","t":0,"s":1},{"p":"F","g":"H","b":"d","t":10,"s":0.86},{"p":"F","g":"H","b":"d","t":20,"s":0.76},{"p":"F","g":"H","b":"d","t":30,"s":0.63},{"p":"F","g":"H","b":"d","t":40,"s":0.5},{"p":"F","g":"H","b":"d","t":50,"s":0.36},{"p":"F","g":"H","b":"d","t":60,"s":0.27},{"p":"F","g":"H","b":"d","t":70,"s":0.21},{"p":"F","g":"H","b":"d","t":80,"s":0.15},{"p":"F","g":"H","b":"d","t":90,"s":0.09},{"p":"F","g":"H","b":"d","t":100,"s":0.06},{"p":"F","g":"H","b":"d","t":130,"s":0.04},{"p":"F","g":"H","b":"d","t":183,"s":0.04},
{"p":"G","g":"L","b":"u","t":0,"s":1},{"p":"G","g":"L","b":"u","t":80,"s":1},
{"p":"G","g":"L","b":"d","t":0,"s":1},{"p":"G","g":"L","b":"d","t":3,"s":0.93},{"p":"G","g":"L","b":"d","t":14,"s":0.89},{"p":"G","g":"L","b":"d","t":16,"s":0.85},{"p":"G","g":"L","b":"d","t":48,"s":0.64},{"p":"G","g":"L","b":"d","t":59,"s":0.1},{"p":"G","g":"L","b":"d","t":80,"s":0.1},
{"p":"G","g":"H","b":"u","t":0,"s":1},{"p":"G","g":"H","b":"u","t":14,"s":0.98},{"p":"G","g":"H","b":"u","t":21,"s":0.94},{"p":"G","g":"H","b":"u","t":29,"s":0.88},{"p":"G","g":"H","b":"u","t":34,"s":0.86},{"p":"G","g":"H","b":"u","t":44,"s":0.77},{"p":"G","g":"H","b":"u","t":132,"s":0.77},
{"p":"G","g":"H","b":"d","t":0,"s":1},{"p":"G","g":"H","b":"d","t":5,"s":0.93},{"p":"G","g":"H","b":"d","t":14,"s":0.8},{"p":"G","g":"H","b":"d","t":21,"s":0.68},{"p":"G","g":"H","b":"d","t":29,"s":0.59},{"p":"G","g":"H","b":"d","t":34,"s":0.52},{"p":"G","g":"H","b":"d","t":42,"s":0.43},{"p":"G","g":"H","b":"d","t":44,"s":0.29},{"p":"G","g":"H","b":"d","t":53,"s":0.19},{"p":"G","g":"H","b":"d","t":132,"s":0.19},
{"p":"H","g":"L","b":"u","t":0,"s":1},{"p":"H","g":"L","b":"u","t":88,"s":1},
{"p":"H","g":"L","b":"d","t":0,"s":1},{"p":"H","g":"L","b":"d","t":2,"s":0.93},{"p":"H","g":"L","b":"d","t":15,"s":0.86},{"p":"H","g":"L","b":"d","t":31,"s":0.78},{"p":"H","g":"L","b":"d","t":38,"s":0.7},{"p":"H","g":"L","b":"d","t":46,"s":0.5},{"p":"H","g":"L","b":"d","t":53,"s":0.2},{"p":"H","g":"L","b":"d","t":88,"s":0.2},
{"p":"H","g":"H","b":"u","t":0,"s":1},{"p":"H","g":"H","b":"u","t":14,"s":0.97},{"p":"H","g":"H","b":"u","t":22,"s":0.88},{"p":"H","g":"H","b":"u","t":31,"s":0.8},{"p":"H","g":"H","b":"u","t":43,"s":0.76},{"p":"H","g":"H","b":"u","t":46,"s":0.7},{"p":"H","g":"H","b":"u","t":63,"s":0.7},
{"p":"H","g":"H","b":"d","t":0,"s":1},{"p":"H","g":"H","b":"d","t":2,"s":0.92},{"p":"H","g":"H","b":"d","t":9,"s":0.81},{"p":"H","g":"H","b":"d","t":14,"s":0.73},{"p":"H","g":"H","b":"d","t":21,"s":0.57},{"p":"H","g":"H","b":"d","t":27,"s":0.51},{"p":"H","g":"H","b":"d","t":31,"s":0.45},{"p":"H","g":"H","b":"d","t":43,"s":0.39},{"p":"H","g":"H","b":"d","t":44,"s":0.28},{"p":"H","g":"H","b":"d","t":46,"s":0.15},{"p":"H","g":"H","b":"d","t":63,"s":0.15},
{"p":"I","g":"L","b":"u","t":0,"s":1},{"p":"I","g":"L","b":"u","t":20,"s":0.99},{"p":"I","g":"L","b":"u","t":40,"s":0.97},{"p":"I","g":"L","b":"u","t":60,"s":0.94},{"p":"I","g":"L","b":"u","t":85,"s":0.93},{"p":"I","g":"L","b":"u","t":100,"s":0.87},{"p":"I","g":"L","b":"u","t":104,"s":0.86},{"p":"I","g":"L","b":"u","t":141,"s":0.92},{"p":"I","g":"L","b":"u","t":282,"s":0.92},
{"p":"I","g":"L","b":"d","t":0,"s":1},{"p":"I","g":"L","b":"d","t":20,"s":0.94},{"p":"I","g":"L","b":"d","t":40,"s":0.9},{"p":"I","g":"L","b":"d","t":60,"s":0.85},{"p":"I","g":"L","b":"d","t":85,"s":0.83},{"p":"I","g":"L","b":"d","t":100,"s":0.73},{"p":"I","g":"L","b":"d","t":104,"s":0.69},{"p":"I","g":"L","b":"d","t":141,"s":0.43},{"p":"I","g":"L","b":"d","t":282,"s":0.43},
{"p":"I","g":"H","b":"u","t":0,"s":1},{"p":"I","g":"H","b":"u","t":20,"s":0.97},{"p":"I","g":"H","b":"u","t":40,"s":0.94},{"p":"I","g":"H","b":"u","t":60,"s":0.88},{"p":"I","g":"H","b":"u","t":80,"s":0.85},{"p":"I","g":"H","b":"u","t":100,"s":0.83},{"p":"I","g":"H","b":"u","t":110,"s":0.8},{"p":"I","g":"H","b":"u","t":128,"s":0.79},{"p":"I","g":"H","b":"u","t":141,"s":0.78},{"p":"I","g":"H","b":"u","t":170,"s":0.8},{"p":"I","g":"H","b":"u","t":288,"s":0.8},
{"p":"I","g":"H","b":"d","t":0,"s":1},{"p":"I","g":"H","b":"d","t":20,"s":0.92},{"p":"I","g":"H","b":"d","t":40,"s":0.86},{"p":"I","g":"H","b":"d","t":60,"s":0.8},{"p":"I","g":"H","b":"d","t":80,"s":0.75},{"p":"I","g":"H","b":"d","t":100,"s":0.71},{"p":"I","g":"H","b":"d","t":110,"s":0.66},{"p":"I","g":"H","b":"d","t":128,"s":0.62},{"p":"I","g":"H","b":"d","t":141,"s":0.5},{"p":"I","g":"H","b":"d","t":170,"s":0.3},{"p":"I","g":"H","b":"d","t":288,"s":0.3},
{"p":"J","g":"L","b":"u","t":0,"s":1},{"p":"J","g":"L","b":"u","t":6,"s":0.99},{"p":"J","g":"L","b":"u","t":12,"s":0.96},{"p":"J","g":"L","b":"u","t":22,"s":0.94},{"p":"J","g":"L","b":"u","t":35,"s":0.92},{"p":"J","g":"L","b":"u","t":72,"s":0.9},{"p":"J","g":"L","b":"u","t":108,"s":0.88},{"p":"J","g":"L","b":"u","t":199,"s":0.88},
{"p":"J","g":"L","b":"d","t":0,"s":1},{"p":"J","g":"L","b":"d","t":6,"s":0.91},{"p":"J","g":"L","b":"d","t":12,"s":0.86},{"p":"J","g":"L","b":"d","t":22,"s":0.83},{"p":"J","g":"L","b":"d","t":35,"s":0.8},{"p":"J","g":"L","b":"d","t":50,"s":0.77},{"p":"J","g":"L","b":"d","t":72,"s":0.7},{"p":"J","g":"L","b":"d","t":108,"s":0.33},{"p":"J","g":"L","b":"d","t":199,"s":0.33},
{"p":"J","g":"H","b":"u","t":0,"s":1},{"p":"J","g":"H","b":"u","t":5,"s":0.97},{"p":"J","g":"H","b":"u","t":10,"s":0.91},{"p":"J","g":"H","b":"u","t":16,"s":0.86},{"p":"J","g":"H","b":"u","t":25,"s":0.84},{"p":"J","g":"H","b":"u","t":45,"s":0.82},{"p":"J","g":"H","b":"u","t":48,"s":0.79},{"p":"J","g":"H","b":"u","t":84,"s":0.76},{"p":"J","g":"H","b":"u","t":106,"s":0.885},{"p":"J","g":"H","b":"u","t":127,"s":0.885},
{"p":"J","g":"H","b":"d","t":0,"s":1},{"p":"J","g":"H","b":"d","t":5,"s":0.87},{"p":"J","g":"H","b":"d","t":10,"s":0.77},{"p":"J","g":"H","b":"d","t":16,"s":0.72},{"p":"J","g":"H","b":"d","t":25,"s":0.68},{"p":"J","g":"H","b":"d","t":45,"s":0.65},{"p":"J","g":"H","b":"d","t":48,"s":0.59},{"p":"J","g":"H","b":"d","t":84,"s":0.49},{"p":"J","g":"H","b":"d","t":106,"s":0.25},{"p":"J","g":"H","b":"d","t":127,"s":0.25},
{"p":"K","g":"L","b":"u","t":0,"s":1},{"p":"K","g":"L","b":"u","t":6,"s":0.98},{"p":"K","g":"L","b":"u","t":12,"s":0.89},{"p":"K","g":"L","b":"u","t":20,"s":0.82},{"p":"K","g":"L","b":"u","t":30,"s":0.75},{"p":"K","g":"L","b":"u","t":40,"s":0.71},{"p":"K","g":"L","b":"u","t":50,"s":0.67},{"p":"K","g":"L","b":"u","t":60,"s":0.64},{"p":"K","g":"L","b":"u","t":70,"s":0.59},{"p":"K","g":"L","b":"u","t":80,"s":0.57},{"p":"K","g":"L","b":"u","t":98,"s":0.55},{"p":"K","g":"L","b":"u","t":235,"s":0.55},
{"p":"K","g":"L","b":"d","t":0,"s":1},{"p":"K","g":"L","b":"d","t":6,"s":0.92},{"p":"K","g":"L","b":"d","t":12,"s":0.81},{"p":"K","g":"L","b":"d","t":20,"s":0.72},{"p":"K","g":"L","b":"d","t":30,"s":0.65},{"p":"K","g":"L","b":"d","t":40,"s":0.61},{"p":"K","g":"L","b":"d","t":50,"s":0.57},{"p":"K","g":"L","b":"d","t":60,"s":0.52},{"p":"K","g":"L","b":"d","t":70,"s":0.47},{"p":"K","g":"L","b":"d","t":80,"s":0.43},{"p":"K","g":"L","b":"d","t":98,"s":0.37},{"p":"K","g":"L","b":"d","t":103,"s":0.32},{"p":"K","g":"L","b":"d","t":151,"s":0.19},{"p":"K","g":"L","b":"d","t":235,"s":0.19},
{"p":"K","g":"H","b":"u","t":0,"s":1},{"p":"K","g":"H","b":"u","t":6,"s":0.95},{"p":"K","g":"H","b":"u","t":12,"s":0.85},{"p":"K","g":"H","b":"u","t":20,"s":0.76},{"p":"K","g":"H","b":"u","t":30,"s":0.67},{"p":"K","g":"H","b":"u","t":40,"s":0.62},{"p":"K","g":"H","b":"u","t":50,"s":0.55},{"p":"K","g":"H","b":"u","t":60,"s":0.51},{"p":"K","g":"H","b":"u","t":67,"s":0.5},{"p":"K","g":"H","b":"u","t":231,"s":0.5},
{"p":"K","g":"H","b":"d","t":0,"s":1},{"p":"K","g":"H","b":"d","t":6,"s":0.89},{"p":"K","g":"H","b":"d","t":12,"s":0.75},{"p":"K","g":"H","b":"d","t":20,"s":0.66},{"p":"K","g":"H","b":"d","t":30,"s":0.57},{"p":"K","g":"H","b":"d","t":40,"s":0.52},{"p":"K","g":"H","b":"d","t":50,"s":0.45},{"p":"K","g":"H","b":"d","t":60,"s":0.39},{"p":"K","g":"H","b":"d","t":67,"s":0.32},{"p":"K","g":"H","b":"d","t":231,"s":0.32},
{"p":"L","g":"L","b":"u","t":0,"s":1},{"p":"L","g":"L","b":"u","t":6,"s":1},{"p":"L","g":"L","b":"u","t":10,"s":0.96},{"p":"L","g":"L","b":"u","t":14,"s":0.9},{"p":"L","g":"L","b":"u","t":17,"s":0.84},{"p":"L","g":"L","b":"u","t":20,"s":0.72},{"p":"L","g":"L","b":"u","t":27,"s":0.67},{"p":"L","g":"L","b":"u","t":33,"s":0.63},{"p":"L","g":"L","b":"u","t":54,"s":0.59},{"p":"L","g":"L","b":"u","t":92,"s":0.59},
{"p":"L","g":"L","b":"d","t":0,"s":1},{"p":"L","g":"L","b":"d","t":6,"s":0.9},{"p":"L","g":"L","b":"d","t":10,"s":0.78},{"p":"L","g":"L","b":"d","t":14,"s":0.69},{"p":"L","g":"L","b":"d","t":17,"s":0.58},{"p":"L","g":"L","b":"d","t":20,"s":0.42},{"p":"L","g":"L","b":"d","t":27,"s":0.35},{"p":"L","g":"L","b":"d","t":33,"s":0.31},{"p":"L","g":"L","b":"d","t":54,"s":0.22},{"p":"L","g":"L","b":"d","t":92,"s":0.22},
{"p":"L","g":"H","b":"u","t":0,"s":1},{"p":"L","g":"H","b":"u","t":4,"s":1},{"p":"L","g":"H","b":"u","t":6,"s":0.92},{"p":"L","g":"H","b":"u","t":10,"s":0.86},{"p":"L","g":"H","b":"u","t":13,"s":0.78},{"p":"L","g":"H","b":"u","t":16,"s":0.62},{"p":"L","g":"H","b":"u","t":20,"s":0.55},{"p":"L","g":"H","b":"u","t":26,"s":0.48},{"p":"L","g":"H","b":"u","t":33,"s":0.42},{"p":"L","g":"H","b":"u","t":43,"s":0.39},{"p":"L","g":"H","b":"u","t":51,"s":0.33},{"p":"L","g":"H","b":"u","t":68,"s":0.33},
{"p":"L","g":"H","b":"d","t":0,"s":1},{"p":"L","g":"H","b":"d","t":4,"s":0.88},{"p":"L","g":"H","b":"d","t":6,"s":0.72},{"p":"L","g":"H","b":"d","t":10,"s":0.66},{"p":"L","g":"H","b":"d","t":13,"s":0.56},{"p":"L","g":"H","b":"d","t":16,"s":0.4},{"p":"L","g":"H","b":"d","t":20,"s":0.32},{"p":"L","g":"H","b":"d","t":26,"s":0.22},{"p":"L","g":"H","b":"d","t":33,"s":0.19},{"p":"L","g":"H","b":"d","t":44,"s":0.1},{"p":"L","g":"H","b":"d","t":51,"s":0.04},{"p":"L","g":"H","b":"d","t":68,"s":0.04},
{"p":"M","g":"L","b":"u","t":0,"s":1},{"p":"M","g":"L","b":"u","t":10,"s":0.99},{"p":"M","g":"L","b":"u","t":20,"s":0.97},{"p":"M","g":"L","b":"u","t":40,"s":0.94},{"p":"M","g":"L","b":"u","t":50,"s":0.92},{"p":"M","g":"L","b":"u","t":60,"s":0.89},{"p":"M","g":"L","b":"u","t":75,"s":0.88},{"p":"M","g":"L","b":"u","t":142,"s":0.88},
{"p":"M","g":"L","b":"d","t":0,"s":1},{"p":"M","g":"L","b":"d","t":10,"s":0.93},{"p":"M","g":"L","b":"d","t":20,"s":0.89},{"p":"M","g":"L","b":"d","t":40,"s":0.84},{"p":"M","g":"L","b":"d","t":50,"s":0.8},{"p":"M","g":"L","b":"d","t":60,"s":0.75},{"p":"M","g":"L","b":"d","t":75,"s":0.7},{"p":"M","g":"L","b":"d","t":142,"s":0.7},
{"p":"M","g":"H","b":"u","t":0,"s":1},{"p":"M","g":"H","b":"u","t":10,"s":0.97},{"p":"M","g":"H","b":"u","t":20,"s":0.91},{"p":"M","g":"H","b":"u","t":30,"s":0.86},{"p":"M","g":"H","b":"u","t":40,"s":0.8},{"p":"M","g":"H","b":"u","t":50,"s":0.76},{"p":"M","g":"H","b":"u","t":60,"s":0.7},{"p":"M","g":"H","b":"u","t":70,"s":0.64},{"p":"M","g":"H","b":"u","t":75,"s":0.62},{"p":"M","g":"H","b":"u","t":90,"s":0.62},
{"p":"M","g":"H","b":"d","t":0,"s":1},{"p":"M","g":"H","b":"d","t":10,"s":0.89},{"p":"M","g":"H","b":"d","t":20,"s":0.8},{"p":"M","g":"H","b":"d","t":30,"s":0.73},{"p":"M","g":"H","b":"d","t":40,"s":0.65},{"p":"M","g":"H","b":"d","t":50,"s":0.58},{"p":"M","g":"H","b":"d","t":60,"s":0.51},{"p":"M","g":"H","b":"d","t":70,"s":0.4},{"p":"M","g":"H","b":"d","t":75,"s":0.33},{"p":"M","g":"H","b":"d","t":90,"s":0.33},
{"p":"N","g":"L","b":"u","t":0,"s":1},{"p":"N","g":"L","b":"u","t":80,"s":1},
{"p":"N","g":"L","b":"d","t":0,"s":1},{"p":"N","g":"L","b":"d","t":10,"s":0.85},{"p":"N","g":"L","b":"d","t":22,"s":0.75},{"p":"N","g":"L","b":"d","t":30,"s":0.7},{"p":"N","g":"L","b":"d","t":40,"s":0.6},{"p":"N","g":"L","b":"d","t":80,"s":0.6},
{"p":"N","g":"H","b":"u","t":0,"s":1},{"p":"N","g":"H","b":"u","t":12,"s":1},{"p":"N","g":"H","b":"u","t":25,"s":0.9},{"p":"N","g":"H","b":"u","t":40,"s":0.78},{"p":"N","g":"H","b":"u","t":110,"s":0.75},{"p":"N","g":"H","b":"u","t":130,"s":0.75},
{"p":"N","g":"H","b":"d","t":0,"s":1},{"p":"N","g":"H","b":"d","t":10,"s":0.8},{"p":"N","g":"H","b":"d","t":20,"s":0.62},{"p":"N","g":"H","b":"d","t":30,"s":0.5},{"p":"N","g":"H","b":"d","t":40,"s":0.28},{"p":"N","g":"H","b":"d","t":110,"s":0.05},{"p":"N","g":"H","b":"d","t":130,"s":0.05},
{"p":"O","g":"L","b":"u","t":0,"s":1},{"p":"O","g":"L","b":"u","t":84,"s":1},
{"p":"O","g":"L","b":"d","t":0,"s":1},{"p":"O","g":"L","b":"d","t":5,"s":0.85},{"p":"O","g":"L","b":"d","t":10,"s":0.78},{"p":"O","g":"L","b":"d","t":35,"s":0.65},{"p":"O","g":"L","b":"d","t":45,"s":0.5},{"p":"O","g":"L","b":"d","t":68,"s":0.1},{"p":"O","g":"L","b":"d","t":84,"s":0.1},
{"p":"O","g":"H","b":"u","t":0,"s":1},{"p":"O","g":"H","b":"u","t":5,"s":1},{"p":"O","g":"H","b":"u","t":10,"s":0.95},{"p":"O","g":"H","b":"u","t":15,"s":0.85},{"p":"O","g":"H","b":"u","t":25,"s":0.8},{"p":"O","g":"H","b":"u","t":45,"s":0.78},{"p":"O","g":"H","b":"u","t":52,"s":0.78},
{"p":"O","g":"H","b":"d","t":0,"s":1},{"p":"O","g":"H","b":"d","t":5,"s":0.8},{"p":"O","g":"H","b":"d","t":10,"s":0.65},{"p":"O","g":"H","b":"d","t":15,"s":0.5},{"p":"O","g":"H","b":"d","t":25,"s":0.45},{"p":"O","g":"H","b":"d","t":45,"s":0.38},{"p":"O","g":"H","b":"d","t":52,"s":0.38}
],
"cen":[
{"p":"A","g":"L","t":45,"s":0.78},{"p":"A","g":"L","t":48,"s":0.78},{"p":"A","g":"L","t":55,"s":0.78},{"p":"A","g":"L","t":58,"s":0.78},{"p":"A","g":"L","t":62,"s":0.78},{"p":"A","g":"L","t":73,"s":0.69},{"p":"A","g":"L","t":78,"s":0.69},{"p":"A","g":"L","t":82,"s":0.69},{"p":"A","g":"L","t":90,"s":0.655},{"p":"A","g":"L","t":114,"s":0.49},{"p":"A","g":"L","t":120,"s":0.49},{"p":"A","g":"L","t":148,"s":0.42},{"p":"A","g":"L","t":152,"s":0.42},{"p":"A","g":"L","t":162,"s":0.42},{"p":"A","g":"L","t":176,"s":0.42},{"p":"A","g":"L","t":182,"s":0.42},{"p":"A","g":"L","t":213,"s":0.42},
{"p":"A","g":"H","t":72,"s":0.52},{"p":"A","g":"H","t":76,"s":0.52},{"p":"A","g":"H","t":80,"s":0.52},{"p":"A","g":"H","t":86,"s":0.52},{"p":"A","g":"H","t":92,"s":0.52},{"p":"A","g":"H","t":98,"s":0.52},{"p":"A","g":"H","t":130,"s":0.52},{"p":"A","g":"H","t":133,"s":0.52},{"p":"A","g":"H","t":146,"s":0.52},{"p":"A","g":"H","t":158,"s":0.52},{"p":"A","g":"H","t":213,"s":0.52},
{"p":"B","g":"L","t":22,"s":0.94},{"p":"B","g":"L","t":25,"s":0.94},{"p":"B","g":"L","t":28,"s":0.94},{"p":"B","g":"L","t":31,"s":0.94},{"p":"B","g":"L","t":35,"s":0.94},{"p":"B","g":"L","t":58,"s":0.805},{"p":"B","g":"L","t":61,"s":0.805},{"p":"B","g":"L","t":64,"s":0.805},{"p":"B","g":"L","t":67,"s":0.805},{"p":"B","g":"L","t":70,"s":0.805},{"p":"B","g":"L","t":90,"s":0.66},{"p":"B","g":"L","t":93,"s":0.66},{"p":"B","g":"L","t":103,"s":0.56},{"p":"B","g":"L","t":112,"s":0.56},{"p":"B","g":"L","t":128,"s":0.56},{"p":"B","g":"L","t":198,"s":0.56},
{"p":"B","g":"H","t":24,"s":0.82},{"p":"B","g":"H","t":28,"s":0.81},{"p":"B","g":"H","t":33,"s":0.8},{"p":"B","g":"H","t":42,"s":0.78},{"p":"B","g":"H","t":58,"s":0.7},{"p":"B","g":"H","t":63,"s":0.68},{"p":"B","g":"H","t":72,"s":0.65},{"p":"B","g":"H","t":78,"s":0.65},{"p":"B","g":"H","t":85,"s":0.65},{"p":"B","g":"H","t":95,"s":0.59},{"p":"B","g":"H","t":100,"s":0.59},{"p":"B","g":"H","t":108,"s":0.59},{"p":"B","g":"H","t":115,"s":0.59},{"p":"B","g":"H","t":120,"s":0.59},{"p":"B","g":"H","t":127,"s":0.59},
{"p":"C","g":"L","t":5,"s":0.99},{"p":"C","g":"L","t":12,"s":0.98},{"p":"C","g":"L","t":18,"s":0.98},{"p":"C","g":"L","t":22,"s":0.96},{"p":"C","g":"L","t":28,"s":0.93},{"p":"C","g":"L","t":33,"s":0.91},{"p":"C","g":"L","t":38,"s":0.88},{"p":"C","g":"L","t":48,"s":0.8},{"p":"C","g":"L","t":52,"s":0.77},{"p":"C","g":"L","t":58,"s":0.74},{"p":"C","g":"L","t":68,"s":0.7},{"p":"C","g":"L","t":78,"s":0.65},{"p":"C","g":"L","t":84,"s":0.6},{"p":"C","g":"L","t":88,"s":0.6},{"p":"C","g":"L","t":93,"s":0.59},{"p":"C","g":"L","t":110,"s":0.395},{"p":"C","g":"L","t":178,"s":0.087},{"p":"C","g":"L","t":185,"s":0.087},
{"p":"C","g":"H","t":8,"s":0.97},{"p":"C","g":"H","t":25,"s":0.79},{"p":"C","g":"H","t":38,"s":0.69},{"p":"C","g":"H","t":58,"s":0.53},{"p":"C","g":"H","t":62,"s":0.5},{"p":"C","g":"H","t":78,"s":0.445},{"p":"C","g":"H","t":102,"s":0.39},{"p":"C","g":"H","t":112,"s":0.39},{"p":"C","g":"H","t":130,"s":0.39},{"p":"C","g":"H","t":160,"s":0.135},{"p":"C","g":"H","t":215,"s":0.135},
{"p":"D","g":"L","t":30,"s":0.69},{"p":"D","g":"L","t":32,"s":0.69},{"p":"D","g":"L","t":34,"s":0.69},{"p":"D","g":"L","t":36,"s":0.69},{"p":"D","g":"L","t":44,"s":0.65},{"p":"D","g":"L","t":48,"s":0.63},{"p":"D","g":"L","t":50,"s":0.63},{"p":"D","g":"L","t":54,"s":0.6},{"p":"D","g":"L","t":58,"s":0.55},{"p":"D","g":"L","t":64,"s":0.53},{"p":"D","g":"L","t":66,"s":0.53},{"p":"D","g":"L","t":68,"s":0.53},{"p":"D","g":"L","t":74,"s":0.5},{"p":"D","g":"L","t":78,"s":0.5},{"p":"D","g":"L","t":82,"s":0.5},{"p":"D","g":"L","t":110,"s":0.285},{"p":"D","g":"L","t":113,"s":0.285},{"p":"D","g":"L","t":118,"s":0.285},{"p":"D","g":"L","t":123,"s":0.285},
{"p":"D","g":"H","t":21,"s":0.68},{"p":"D","g":"H","t":24,"s":0.65},{"p":"D","g":"H","t":33,"s":0.6},{"p":"D","g":"H","t":37,"s":0.58},{"p":"D","g":"H","t":40,"s":0.56},{"p":"D","g":"H","t":44,"s":0.52},{"p":"D","g":"H","t":48,"s":0.49},{"p":"D","g":"H","t":52,"s":0.48},{"p":"D","g":"H","t":54,"s":0.48},{"p":"D","g":"H","t":63,"s":0.43},{"p":"D","g":"H","t":70,"s":0.41},{"p":"D","g":"H","t":76,"s":0.41},{"p":"D","g":"H","t":88,"s":0.285},
{"p":"E","g":"L","t":42,"s":0.65},{"p":"E","g":"L","t":47,"s":0.63},{"p":"E","g":"L","t":52,"s":0.6},{"p":"E","g":"L","t":57,"s":0.58},{"p":"E","g":"L","t":62,"s":0.55},{"p":"E","g":"L","t":72,"s":0.48},{"p":"E","g":"L","t":88,"s":0.4},{"p":"E","g":"L","t":95,"s":0.4},{"p":"E","g":"L","t":104,"s":0.39},{"p":"E","g":"L","t":118,"s":0.28},{"p":"E","g":"L","t":122,"s":0.28},{"p":"E","g":"L","t":126,"s":0.28},{"p":"E","g":"L","t":140,"s":0.255},{"p":"E","g":"L","t":150,"s":0.255},{"p":"E","g":"L","t":243,"s":0.19},
{"p":"E","g":"H","t":57,"s":0.34},{"p":"E","g":"H","t":60,"s":0.34},{"p":"E","g":"H","t":66,"s":0.32},{"p":"E","g":"H","t":75,"s":0.3},{"p":"E","g":"H","t":82,"s":0.3},{"p":"E","g":"H","t":92,"s":0.225},{"p":"E","g":"H","t":96,"s":0.225},{"p":"E","g":"H","t":100,"s":0.225},{"p":"E","g":"H","t":110,"s":0.225},{"p":"E","g":"H","t":135,"s":0.175},{"p":"E","g":"H","t":228,"s":0.09},
{"p":"F","g":"L","t":22,"s":0.83},{"p":"F","g":"L","t":32,"s":0.72},{"p":"F","g":"L","t":42,"s":0.6},{"p":"F","g":"L","t":52,"s":0.45},{"p":"F","g":"L","t":62,"s":0.37},{"p":"F","g":"L","t":72,"s":0.3},{"p":"F","g":"L","t":76,"s":0.3},{"p":"F","g":"L","t":80,"s":0.3},{"p":"F","g":"L","t":84,"s":0.3},{"p":"F","g":"L","t":105,"s":0.21},{"p":"F","g":"L","t":114,"s":0.18},{"p":"F","g":"L","t":118,"s":0.18},{"p":"F","g":"L","t":124,"s":0.16},{"p":"F","g":"L","t":155,"s":0.06},
{"p":"F","g":"H","t":12,"s":0.9},{"p":"F","g":"H","t":28,"s":0.75},{"p":"F","g":"H","t":57,"s":0.37},{"p":"F","g":"H","t":67,"s":0.3},{"p":"F","g":"H","t":128,"s":0.1},{"p":"F","g":"H","t":133,"s":0.08},{"p":"F","g":"H","t":140,"s":0.08},{"p":"F","g":"H","t":183,"s":0.08},
{"p":"G","g":"L","t":4,"s":0.975},{"p":"G","g":"L","t":8,"s":0.975},{"p":"G","g":"L","t":19,"s":0.925},{"p":"G","g":"L","t":22,"s":0.925},{"p":"G","g":"L","t":25,"s":0.925},{"p":"G","g":"L","t":30,"s":0.925},{"p":"G","g":"L","t":33,"s":0.925},{"p":"G","g":"L","t":37,"s":0.925},{"p":"G","g":"L","t":43,"s":0.925},{"p":"G","g":"L","t":46,"s":0.925},{"p":"G","g":"L","t":50,"s":0.825},{"p":"G","g":"L","t":80,"s":0.41},
{"p":"G","g":"H","t":15,"s":0.905},{"p":"G","g":"H","t":24,"s":0.81},{"p":"G","g":"H","t":27,"s":0.765},{"p":"G","g":"H","t":39,"s":0.665},{"p":"G","g":"H","t":40,"s":0.665},{"p":"G","g":"H","t":67,"s":0.38},{"p":"G","g":"H","t":88,"s":0.38},{"p":"G","g":"H","t":128,"s":0.38},{"p":"G","g":"H","t":131,"s":0.38},
{"p":"H","g":"L","t":2,"s":0.975},{"p":"H","g":"L","t":16,"s":0.94},{"p":"H","g":"L","t":20,"s":0.94},{"p":"H","g":"L","t":23,"s":0.94},{"p":"H","g":"L","t":26,"s":0.94},{"p":"H","g":"L","t":28,"s":0.94},{"p":"H","g":"L","t":34,"s":0.895},{"p":"H","g":"L","t":36,"s":0.895},{"p":"H","g":"L","t":39,"s":0.835},{"p":"H","g":"L","t":41,"s":0.835},{"p":"H","g":"L","t":44,"s":0.835},{"p":"H","g":"L","t":49,"s":0.715},{"p":"H","g":"L","t":85,"s":0.48},{"p":"H","g":"L","t":88,"s":0.48},
{"p":"H","g":"H","t":10,"s":0.915},{"p":"H","g":"H","t":23,"s":0.72},{"p":"H","g":"H","t":26,"s":0.69},{"p":"H","g":"H","t":29,"s":0.655},{"p":"H","g":"H","t":33,"s":0.595},{"p":"H","g":"H","t":37,"s":0.595},{"p":"H","g":"H","t":41,"s":0.595},{"p":"H","g":"H","t":50,"s":0.32},{"p":"H","g":"H","t":57,"s":0.32},{"p":"H","g":"H","t":63,"s":0.32},
{"p":"I","g":"L","t":40,"s":0.93},{"p":"I","g":"L","t":50,"s":0.91},{"p":"I","g":"L","t":62,"s":0.89},{"p":"I","g":"L","t":72,"s":0.88},{"p":"I","g":"L","t":76,"s":0.88},{"p":"I","g":"L","t":80,"s":0.88},{"p":"I","g":"L","t":84,"s":0.88},{"p":"I","g":"L","t":108,"s":0.765},{"p":"I","g":"L","t":112,"s":0.765},{"p":"I","g":"L","t":116,"s":0.765},{"p":"I","g":"L","t":122,"s":0.765},{"p":"I","g":"L","t":128,"s":0.765},{"p":"I","g":"L","t":237,"s":0.64},{"p":"I","g":"L","t":280,"s":0.64},
{"p":"I","g":"H","t":72,"s":0.81},{"p":"I","g":"H","t":85,"s":0.8},{"p":"I","g":"H","t":96,"s":0.79},{"p":"I","g":"H","t":106,"s":0.77},{"p":"I","g":"H","t":113,"s":0.73},{"p":"I","g":"H","t":118,"s":0.73},{"p":"I","g":"H","t":123,"s":0.73},{"p":"I","g":"H","t":143,"s":0.64},{"p":"I","g":"H","t":148,"s":0.64},{"p":"I","g":"H","t":153,"s":0.64},{"p":"I","g":"H","t":167,"s":0.64},{"p":"I","g":"H","t":260,"s":0.505},{"p":"I","g":"H","t":268,"s":0.505},{"p":"I","g":"H","t":288,"s":0.505},
{"p":"J","g":"L","t":15,"s":0.91},{"p":"J","g":"L","t":20,"s":0.9},{"p":"J","g":"L","t":25,"s":0.89},{"p":"J","g":"L","t":30,"s":0.88},{"p":"J","g":"L","t":33,"s":0.88},{"p":"J","g":"L","t":38,"s":0.86},{"p":"J","g":"L","t":42,"s":0.86},{"p":"J","g":"L","t":58,"s":0.83},{"p":"J","g":"L","t":62,"s":0.83},{"p":"J","g":"L","t":66,"s":0.83},{"p":"J","g":"L","t":76,"s":0.79},{"p":"J","g":"L","t":80,"s":0.79},{"p":"J","g":"L","t":84,"s":0.79},{"p":"J","g":"L","t":88,"s":0.79},{"p":"J","g":"L","t":100,"s":0.79},{"p":"J","g":"L","t":128,"s":0.595},{"p":"J","g":"L","t":131,"s":0.595},{"p":"J","g":"L","t":199,"s":0.595},
{"p":"J","g":"H","t":22,"s":0.77},{"p":"J","g":"H","t":27,"s":0.76},{"p":"J","g":"H","t":33,"s":0.75},{"p":"J","g":"H","t":38,"s":0.75},{"p":"J","g":"H","t":42,"s":0.75},{"p":"J","g":"H","t":56,"s":0.695},{"p":"J","g":"H","t":61,"s":0.695},{"p":"J","g":"H","t":66,"s":0.695},{"p":"J","g":"H","t":71,"s":0.695},{"p":"J","g":"H","t":76,"s":0.695},{"p":"J","g":"H","t":100,"s":0.625},{"p":"J","g":"H","t":103,"s":0.625},{"p":"J","g":"H","t":113,"s":0.47},{"p":"J","g":"H","t":127,"s":0.47},
{"p":"K","g":"L","t":22,"s":0.77},{"p":"K","g":"L","t":32,"s":0.7},{"p":"K","g":"L","t":42,"s":0.66},{"p":"K","g":"L","t":52,"s":0.62},{"p":"K","g":"L","t":62,"s":0.58},{"p":"K","g":"L","t":72,"s":0.53},{"p":"K","g":"L","t":82,"s":0.5},{"p":"K","g":"L","t":86,"s":0.5},{"p":"K","g":"L","t":92,"s":0.48},{"p":"K","g":"L","t":95,"s":0.48},{"p":"K","g":"L","t":106,"s":0.41},{"p":"K","g":"L","t":112,"s":0.41},{"p":"K","g":"L","t":122,"s":0.41},{"p":"K","g":"L","t":132,"s":0.41},{"p":"K","g":"L","t":142,"s":0.41},{"p":"K","g":"L","t":153,"s":0.33},{"p":"K","g":"L","t":157,"s":0.33},{"p":"K","g":"L","t":235,"s":0.33},
{"p":"K","g":"H","t":42,"s":0.57},{"p":"K","g":"H","t":52,"s":0.5},{"p":"K","g":"H","t":62,"s":0.45},{"p":"K","g":"H","t":70,"s":0.405},{"p":"K","g":"H","t":75,"s":0.405},{"p":"K","g":"H","t":80,"s":0.405},{"p":"K","g":"H","t":90,"s":0.405},{"p":"K","g":"H","t":100,"s":0.405},{"p":"K","g":"H","t":115,"s":0.405},{"p":"K","g":"H","t":125,"s":0.405},{"p":"K","g":"H","t":140,"s":0.405},{"p":"K","g":"H","t":155,"s":0.405},{"p":"K","g":"H","t":175,"s":0.405},{"p":"K","g":"H","t":190,"s":0.405},{"p":"K","g":"H","t":200,"s":0.405},{"p":"K","g":"H","t":215,"s":0.405},{"p":"K","g":"H","t":231,"s":0.405},
{"p":"L","g":"L","t":2,"s":0.99},{"p":"L","g":"L","t":3,"s":0.99},{"p":"L","g":"L","t":17,"s":0.7},{"p":"L","g":"L","t":34,"s":0.43},{"p":"L","g":"L","t":36,"s":0.43},{"p":"L","g":"L","t":38,"s":0.43},{"p":"L","g":"L","t":40,"s":0.43},{"p":"L","g":"L","t":42,"s":0.43},{"p":"L","g":"L","t":60,"s":0.36},{"p":"L","g":"L","t":62,"s":0.36},{"p":"L","g":"L","t":65,"s":0.36},{"p":"L","g":"L","t":70,"s":0.36},{"p":"L","g":"L","t":92,"s":0.36},
{"p":"L","g":"H","t":36,"s":0.3},{"p":"L","g":"H","t":39,"s":0.3},{"p":"L","g":"H","t":68,"s":0.13},
{"p":"M","g":"L","t":20,"s":0.93},{"p":"M","g":"L","t":25,"s":0.93},{"p":"M","g":"L","t":35,"s":0.91},{"p":"M","g":"L","t":45,"s":0.89},{"p":"M","g":"L","t":58,"s":0.84},{"p":"M","g":"L","t":68,"s":0.8},{"p":"M","g":"L","t":72,"s":0.8},{"p":"M","g":"L","t":80,"s":0.78},{"p":"M","g":"L","t":85,"s":0.78},{"p":"M","g":"L","t":90,"s":0.78},{"p":"M","g":"L","t":100,"s":0.78},{"p":"M","g":"L","t":110,"s":0.78},{"p":"M","g":"L","t":120,"s":0.78},{"p":"M","g":"L","t":128,"s":0.78},{"p":"M","g":"L","t":142,"s":0.78},
{"p":"M","g":"H","t":28,"s":0.83},{"p":"M","g":"H","t":38,"s":0.77},{"p":"M","g":"H","t":48,"s":0.7},{"p":"M","g":"H","t":58,"s":0.63},{"p":"M","g":"H","t":62,"s":0.61},{"p":"M","g":"H","t":80,"s":0.48},{"p":"M","g":"H","t":85,"s":0.48},{"p":"M","g":"H","t":90,"s":0.48},
{"p":"N","g":"L","t":5,"s":0.97},{"p":"N","g":"L","t":12,"s":0.94},{"p":"N","g":"L","t":15,"s":0.94},{"p":"N","g":"L","t":18,"s":0.94},{"p":"N","g":"L","t":24,"s":0.88},{"p":"N","g":"L","t":27,"s":0.88},{"p":"N","g":"L","t":45,"s":0.78},{"p":"N","g":"L","t":50,"s":0.78},{"p":"N","g":"L","t":55,"s":0.78},{"p":"N","g":"L","t":80,"s":0.78},
{"p":"N","g":"H","t":20,"s":0.8},{"p":"N","g":"H","t":27,"s":0.72},{"p":"N","g":"H","t":32,"s":0.68},{"p":"N","g":"H","t":36,"s":0.62},{"p":"N","g":"H","t":45,"s":0.48},{"p":"N","g":"H","t":68,"s":0.48},{"p":"N","g":"H","t":130,"s":0.24},
{"p":"O","g":"L","t":12,"s":0.88},{"p":"O","g":"L","t":15,"s":0.88},{"p":"O","g":"L","t":18,"s":0.88},{"p":"O","g":"L","t":22,"s":0.88},{"p":"O","g":"L","t":25,"s":0.88},{"p":"O","g":"L","t":28,"s":0.88},{"p":"O","g":"L","t":32,"s":0.85},{"p":"O","g":"L","t":42,"s":0.75},{"p":"O","g":"L","t":48,"s":0.7},{"p":"O","g":"L","t":55,"s":0.7},{"p":"O","g":"L","t":84,"s":0.36},
{"p":"O","g":"H","t":22,"s":0.63},{"p":"O","g":"H","t":27,"s":0.6},{"p":"O","g":"H","t":32,"s":0.6},{"p":"O","g":"H","t":37,"s":0.6},{"p":"O","g":"H","t":42,"s":0.57},{"p":"O","g":"H","t":47,"s":0.55}
]
},
"center":true,
"spacing":4,
"resolve":{"scale":{"color":"independent"},"legend":{"color":"independent"}},
"vconcat":[
{"hconcat":[
{"title":"A","width":155,"height":147,"resolve":{"axis":{"x":"independent","y":"independent"}},"layer":[
{"data":{"name":"km"},"transform":[{"filter":"datum.p=='A'"}],"mark":{"type":"line","interpolate":"step-after","strokeWidth":1.2},"encoding":{"x":{"field":"t","type":"quantitative","scale":{"domain":[0,222],"nice":false},"axis":{"values":[0,50,100,150,200],"title":"Months"}},"y":{"field":"s","type":"quantitative","scale":{"domain":[-0.04,1.04],"nice":false},"axis":{"values":[0,0.2,0.4,0.6,0.8,1],"format":".1f","title":"Overall Survival"}},"color":{"field":"g","type":"nominal","scale":{"domain":["L","H","P","NH","NL"]},"legend":{"title":null,"labelExpr":"datum.value=='L'?'Low IER5L Group':datum.value=='H'?'High IER5L Group':datum.value=='P'?'Log rank P= 0.072':datum.value=='NH'?'n(high)= 146':'n(low)= 146'"}}}},
{"data":{"name":"ci"},"transform":[{"filter":"datum.p=='A'"}],"mark":{"type":"line","interpolate":"step-after","strokeWidth":0.8,"strokeDash":[1,1.5],"opacity":0.5},"encoding":{"x":{"field":"t","type":"quantitative","scale":{"domain":[0,222],"nice":false},"axis":null},"y":{"field":"s","type":"quantitative","scale":{"domain":[-0.04,1.04],"nice":false},"axis":null},"color":{"field":"g","type":"nominal","scale":{"domain":["L","H","P","NH","NL"]}},"detail":{"field":"b"}}},
{"data":{"name":"cen"},"transform":[{"filter":"datum.p=='A'"}],"mark":{"type":"point","shape":"M-1,0L1,0M0,-1L0,1","size":25,"strokeWidth":0.8,"filled":false,"opacity":1},"encoding":{"x":{"field":"t","type":"quantitative","scale":{"domain":[0,222],"nice":false},"axis":{"orient":"top","title":"CESC","labels":false,"ticks":false,"titleFontSize":9.5,"titlePadding":1}},"y":{"field":"s","type":"quantitative","scale":{"domain":[-0.04,1.04],"nice":false},"axis":null},"color":{"field":"g","type":"nominal","scale":{"domain":["L","H","P","NH","NL"]}}}}
]},
{"title":"B","width":155,"height":147,"resolve":{"axis":{"x":"independent","y":"independent"}},"layer":[
{"data":{"name":"km"},"transform":[{"filter":"datum.p=='B'"}],"mark":{"type":"line","interpolate":"step-after","strokeWidth":1.2},"encoding":{"x":{"field":"t","type":"quantitative","scale":{"domain":[0,206],"nice":false},"axis":{"values":[0,50,100,150,200],"title":"Months"}},"y":{"field":"s","type":"quantitative","scale":{"domain":[-0.04,1.04],"nice":false},"axis":{"values":[0,0.2,0.4,0.6,0.8,1],"format":".1f","title":"Overall Survival"}},"color":{"field":"g","type":"nominal","scale":{"domain":["L","H","P","NH","NL"]},"legend":{"title":null,"labelExpr":"datum.value=='L'?'Low IER5L Group':datum.value=='H'?'High IER5L Group':datum.value=='P'?'Log rank P= 0.064':datum.value=='NH'?'n(high)= 140':'n(low)= 141'"}}}},
{"data":{"name":"ci"},"transform":[{"filter":"datum.p=='B'"}],"mark":{"type":"line","interpolate":"step-after","strokeWidth":0.8,"strokeDash":[1,1.5],"opacity":0.5},"encoding":{"x":{"field":"t","type":"quantitative","scale":{"domain":[0,206],"nice":false},"axis":null},"y":{"field":"s","type":"quantitative","scale":{"domain":[-0.04,1.04],"nice":false},"axis":null},"color":{"field":"g","type":"nominal","scale":{"domain":["L","H","P","NH","NL"]}},"detail":{"field":"b"}}},
{"data":{"name":"cen"},"transform":[{"filter":"datum.p=='B'"}],"mark":{"type":"point","shape":"M-1,0L1,0M0,-1L0,1","size":25,"strokeWidth":0.8,"filled":false,"opacity":1},"encoding":{"x":{"field":"t","type":"quantitative","scale":{"domain":[0,206],"nice":false},"axis":{"orient":"top","title":"KIRP","labels":false,"ticks":false,"titleFontSize":9.5,"titlePadding":1}},"y":{"field":"s","type":"quantitative","scale":{"domain":[-0.04,1.04],"nice":false},"axis":null},"color":{"field":"g","type":"nominal","scale":{"domain":["L","H","P","NH","NL"]}}}}
]},
{"title":"C","width":155,"height":147,"resolve":{"axis":{"x":"independent","y":"independent"}},"layer":[
{"data":{"name":"km"},"transform":[{"filter":"datum.p=='C'"}],"mark":{"type":"line","interpolate":"step-after","strokeWidth":1.2},"encoding":{"x":{"field":"t","type":"quantitative","scale":{"domain":[0,224],"nice":false},"axis":{"values":[0,50,100,150,200],"title":"Months"}},"y":{"field":"s","type":"quantitative","scale":{"domain":[-0.04,1.04],"nice":false},"axis":{"values":[0,0.2,0.4,0.6,0.8,1],"format":".1f","title":"Overall Survival"}},"color":{"field":"g","type":"nominal","scale":{"domain":["L","H","P","NH","NL"]},"legend":{"title":null,"labelExpr":"datum.value=='L'?'Low IER5L Group':datum.value=='H'?'High IER5L Group':datum.value=='P'?'Log rank P< 0.001':datum.value=='NH'?'n(high)= 257':'n(low)= 257'"}}}},
{"data":{"name":"ci"},"transform":[{"filter":"datum.p=='C'"}],"mark":{"type":"line","interpolate":"step-after","strokeWidth":0.8,"strokeDash":[1,1.5],"opacity":0.5},"encoding":{"x":{"field":"t","type":"quantitative","scale":{"domain":[0,224],"nice":false},"axis":null},"y":{"field":"s","type":"quantitative","scale":{"domain":[-0.04,1.04],"nice":false},"axis":null},"color":{"field":"g","type":"nominal","scale":{"domain":["L","H","P","NH","NL"]}},"detail":{"field":"b"}}},
{"data":{"name":"cen"},"transform":[{"filter":"datum.p=='C'"}],"mark":{"type":"point","shape":"M-1,0L1,0M0,-1L0,1","size":25,"strokeWidth":0.8,"filled":false,"opacity":1},"encoding":{"x":{"field":"t","type":"quantitative","scale":{"domain":[0,224],"nice":false},"axis":{"orient":"top","title":"LGG","labels":false,"ticks":false,"titleFontSize":9.5,"titlePadding":1}},"y":{"field":"s","type":"quantitative","scale":{"domain":[-0.04,1.04],"nice":false},"axis":null},"color":{"field":"g","type":"nominal","scale":{"domain":["L","H","P","NH","NL"]}}}}
]},
{"title":"D","width":155,"height":147,"resolve":{"axis":{"x":"independent","y":"independent"}},"layer":[
{"data":{"name":"km"},"transform":[{"filter":"datum.p=='D'"}],"mark":{"type":"line","interpolate":"step-after","strokeWidth":1.2},"encoding":{"x":{"field":"t","type":"quantitative","scale":{"domain":[0,128],"nice":false},"axis":{"values":[0,20,40,60,80,100,120],"title":"Months"}},"y":{"field":"s","type":"quantitative","scale":{"domain":[-0.04,1.04],"nice":false},"axis":{"values":[0,0.2,0.4,0.6,0.8,1],"format":".1f","title":"Overall Survival"}},"color":{"field":"g","type":"nominal","scale":{"domain":["L","H","P","NH","NL"]},"legend":{"title":null,"labelExpr":"datum.value=='L'?'Low IER5L Group':datum.value=='H'?'High IER5L Group':datum.value=='P'?'Log rank P= 0.017':datum.value=='NH'?'n(high)= 181':'n(low)= 181'"}}}},
{"data":{"name":"ci"},"transform":[{"filter":"datum.p=='D'"}],"mark":{"type":"line","interpolate":"step-after","strokeWidth":0.8,"strokeDash":[1,1.5],"opacity":0.5},"encoding":{"x":{"field":"t","type":"quantitative","scale":{"domain":[0,128],"nice":false},"axis":null},"y":{"field":"s","type":"quantitative","scale":{"domain":[-0.04,1.04],"nice":false},"axis":null},"color":{"field":"g","type":"nominal","scale":{"domain":["L","H","P","NH","NL"]}},"detail":{"field":"b"}}},
{"data":{"name":"cen"},"transform":[{"filter":"datum.p=='D'"}],"mark":{"type":"point","shape":"M-1,0L1,0M0,-1L0,1","size":25,"strokeWidth":0.8,"filled":false,"opacity":1},"encoding":{"x":{"field":"t","type":"quantitative","scale":{"domain":[0,128],"nice":false},"axis":{"orient":"top","title":"LIHC","labels":false,"ticks":false,"titleFontSize":9.5,"titlePadding":1}},"y":{"field":"s","type":"quantitative","scale":{"domain":[-0.04,1.04],"nice":false},"axis":null},"color":{"field":"g","type":"nominal","scale":{"domain":["L","H","P","NH","NL"]}}}}
]}
],"spacing":6,"resolve":{"scale":{"color":"independent"},"legend":{"color":"independent"}}},
{"hconcat":[
{"title":"E","width":155,"height":144,"resolve":{"axis":{"x":"independent","y":"independent"}},"layer":[
{"data":{"name":"km"},"transform":[{"filter":"datum.p=='E'"}],"mark":{"type":"line","interpolate":"step-after","strokeWidth":1.2},"encoding":{"x":{"field":"t","type":"quantitative","scale":{"domain":[0,252],"nice":false},"axis":{"values":[0,50,100,150,200,250],"title":"Months"}},"y":{"field":"s","type":"quantitative","scale":{"domain":[-0.04,1.04],"nice":false},"axis":{"values":[0,0.2,0.4,0.6,0.8,1],"format":".1f","title":"Overall Survival"}},"color":{"field":"g","type":"nominal","scale":{"domain":["L","H","P","NH","NL"]},"legend":{"title":null,"labelExpr":"datum.value=='L'?'Low IER5L Group':datum.value=='H'?'High IER5L Group':datum.value=='P'?'Log rank P< 0.001':datum.value=='NH'?'n(high)= 480':'n(low)= 479'"}}}},
{"data":{"name":"ci"},"transform":[{"filter":"datum.p=='E'"}],"mark":{"type":"line","interpolate":"step-after","strokeWidth":0.8,"strokeDash":[1,1.5],"opacity":0.5},"encoding":{"x":{"field":"t","type":"quantitative","scale":{"domain":[0,252],"nice":false},"axis":null},"y":{"field":"s","type":"quantitative","scale":{"domain":[-0.04,1.04],"nice":false},"axis":null},"color":{"field":"g","type":"nominal","scale":{"domain":["L","H","P","NH","NL"]}},"detail":{"field":"b"}}},
{"data":{"name":"cen"},"transform":[{"filter":"datum.p=='E'"}],"mark":{"type":"point","shape":"M-1,0L1,0M0,-1L0,1","size":25,"strokeWidth":0.8,"filled":false,"opacity":1},"encoding":{"x":{"field":"t","type":"quantitative","scale":{"domain":[0,252],"nice":false},"axis":{"orient":"top","title":"NSCLC","labels":false,"ticks":false,"titleFontSize":9.5,"titlePadding":1}},"y":{"field":"s","type":"quantitative","scale":{"domain":[-0.04,1.04],"nice":false},"axis":null},"color":{"field":"g","type":"nominal","scale":{"domain":["L","H","P","NH","NL"]}}}}
]},
{"title":"F","width":155,"height":144,"resolve":{"axis":{"x":"independent","y":"independent"}},"layer":[
{"data":{"name":"km"},"transform":[{"filter":"datum.p=='F'"}],"mark":{"type":"line","interpolate":"step-after","strokeWidth":1.2},"encoding":{"x":{"field":"t","type":"quantitative","scale":{"domain":[0,190],"nice":false},"axis":{"values":[0,50,100,150],"title":"Months"}},"y":{"field":"s","type":"quantitative","scale":{"domain":[-0.04,1.04],"nice":false},"axis":{"values":[0,0.2,0.4,0.6,0.8,1],"format":".1f","title":"Overall Survival"}},"color":{"field":"g","type":"nominal","scale":{"domain":["L","H","P","NH","NL"]},"legend":{"title":null,"labelExpr":"datum.value=='L'?'Low IER5L Group':datum.value=='H'?'High IER5L Group':datum.value=='P'?'Log rank P= 0.068':datum.value=='NH'?'n(high)= 212':'n(low)= 212'"}}}},
{"data":{"name":"ci"},"transform":[{"filter":"datum.p=='F'"}],"mark":{"type":"line","interpolate":"step-after","strokeWidth":0.8,"strokeDash":[1,1.5],"opacity":0.5},"encoding":{"x":{"field":"t","type":"quantitative","scale":{"domain":[0,190],"nice":false},"axis":null},"y":{"field":"s","type":"quantitative","scale":{"domain":[-0.04,1.04],"nice":false},"axis":null},"color":{"field":"g","type":"nominal","scale":{"domain":["L","H","P","NH","NL"]}},"detail":{"field":"b"}}},
{"data":{"name":"cen"},"transform":[{"filter":"datum.p=='F'"}],"mark":{"type":"point","shape":"M-1,0L1,0M0,-1L0,1","size":25,"strokeWidth":0.8,"filled":false,"opacity":1},"encoding":{"x":{"field":"t","type":"quantitative","scale":{"domain":[0,190],"nice":false},"axis":{"orient":"top","title":"OV","labels":false,"ticks":false,"titleFontSize":9.5,"titlePadding":1}},"y":{"field":"s","type":"quantitative","scale":{"domain":[-0.04,1.04],"nice":false},"axis":null},"color":{"field":"g","type":"nominal","scale":{"domain":["L","H","P","NH","NL"]}}}}
]},
{"title":"G","width":155,"height":144,"resolve":{"axis":{"x":"independent","y":"independent"}},"layer":[
{"data":{"name":"km"},"transform":[{"filter":"datum.p=='G'"}],"mark":{"type":"line","interpolate":"step-after","strokeWidth":1.2},"encoding":{"x":{"field":"t","type":"quantitative","scale":{"domain":[0,137],"nice":false},"axis":{"values":[0,20,40,60,80,100,120],"title":"Months"}},"y":{"field":"s","type":"quantitative","scale":{"domain":[-0.04,1.04],"nice":false},"axis":{"values":[0,0.2,0.4,0.6,0.8,1],"format":".1f","title":"Overall Survival"}},"color":{"field":"g","type":"nominal","scale":{"domain":["L","H","P","NH","NL"]},"legend":{"title":null,"labelExpr":"datum.value=='L'?'Low IER5L Group':datum.value=='H'?'High IER5L Group':datum.value=='P'?'Log rank P= 0.025':datum.value=='NH'?'n(high)= 46':'n(low)= 46'"}}}},
{"data":{"name":"ci"},"transform":[{"filter":"datum.p=='G'"}],"mark":{"type":"line","interpolate":"step-after","strokeWidth":0.8,"strokeDash":[1,1.5],"opacity":0.5},"encoding":{"x":{"field":"t","type":"quantitative","scale":{"domain":[0,137],"nice":false},"axis":null},"y":{"field":"s","type":"quantitative","scale":{"domain":[-0.04,1.04],"nice":false},"axis":null},"color":{"field":"g","type":"nominal","scale":{"domain":["L","H","P","NH","NL"]}},"detail":{"field":"b"}}},
{"data":{"name":"cen"},"transform":[{"filter":"datum.p=='G'"}],"mark":{"type":"point","shape":"M-1,0L1,0M0,-1L0,1","size":25,"strokeWidth":0.8,"filled":false,"opacity":1},"encoding":{"x":{"field":"t","type":"quantitative","scale":{"domain":[0,137],"nice":false},"axis":{"orient":"top","title":"READ","labels":false,"ticks":false,"titleFontSize":9.5,"titlePadding":1}},"y":{"field":"s","type":"quantitative","scale":{"domain":[-0.04,1.04],"nice":false},"axis":null},"color":{"field":"g","type":"nominal","scale":{"domain":["L","H","P","NH","NL"]}}}}
]},
{"title":"H","width":155,"height":144,"resolve":{"axis":{"x":"independent","y":"independent"}},"layer":[
{"data":{"name":"km"},"transform":[{"filter":"datum.p=='H'"}],"mark":{"type":"line","interpolate":"step-after","strokeWidth":1.2},"encoding":{"x":{"field":"t","type":"quantitative","scale":{"domain":[0,90],"nice":false},"axis":{"values":[0,20,40,60,80],"title":"Months"}},"y":{"field":"s","type":"quantitative","scale":{"domain":[-0.04,1.04],"nice":false},"axis":{"values":[0,0.2,0.4,0.6,0.8,1],"format":".1f","title":"Overall Survival"}},"color":{"field":"g","type":"nominal","scale":{"domain":["L","H","P","NH","NL"]},"legend":{"title":null,"labelExpr":"datum.value=='L'?'Low IER5L Group':datum.value=='H'?'High IER5L Group':datum.value=='P'?'Log rank P= 0.008':datum.value=='NH'?'n(high)= 39':'n(low)= 39'"}}}},
{"data":{"name":"ci"},"transform":[{"filter":"datum.p=='H'"}],"mark":{"type":"line","interpolate":"step-after","strokeWidth":0.8,"strokeDash":[1,1.5],"opacity":0.5},"encoding":{"x":{"field":"t","type":"quantitative","scale":{"domain":[0,90],"nice":false},"axis":null},"y":{"field":"s","type":"quantitative","scale":{"domain":[-0.04,1.04],"nice":false},"axis":null},"color":{"field":"g","type":"nominal","scale":{"domain":["L","H","P","NH","NL"]}},"detail":{"field":"b"}}},
{"data":{"name":"cen"},"transform":[{"filter":"datum.p=='H'"}],"mark":{"type":"point","shape":"M-1,0L1,0M0,-1L0,1","size":25,"strokeWidth":0.8,"filled":false,"opacity":1},"encoding":{"x":{"field":"t","type":"quantitative","scale":{"domain":[0,90],"nice":false},"axis":{"orient":"top","title":"UVM","labels":false,"ticks":false,"titleFontSize":9.5,"titlePadding":1}},"y":{"field":"s","type":"quantitative","scale":{"domain":[-0.04,1.04],"nice":false},"axis":null},"color":{"field":"g","type":"nominal","scale":{"domain":["L","H","P","NH","NL"]}}}}
]}
],"spacing":6,"resolve":{"scale":{"color":"independent"},"legend":{"color":"independent"}}},
{"hconcat":[
{"title":"I","width":155,"height":149,"resolve":{"axis":{"x":"independent","y":"independent"}},"layer":[
{"data":{"name":"km"},"transform":[{"filter":"datum.p=='I'"}],"mark":{"type":"line","interpolate":"step-after","strokeWidth":1.2},"encoding":{"x":{"field":"t","type":"quantitative","scale":{"domain":[0,295],"nice":false},"axis":{"values":[0,50,100,150,200,250],"title":"Months"}},"y":{"field":"s","type":"quantitative","scale":{"domain":[-0.04,1.04],"nice":false},"axis":{"values":[0,0.2,0.4,0.6,0.8,1],"format":".1f","title":"Disease Free Survival","titleFontSize":10}},"color":{"field":"g","type":"nominal","scale":{"domain":["L","H","P","NH","NL"]},"legend":{"title":null,"labelExpr":"datum.value=='L'?'Low IER5L Group':datum.value=='H'?'High IER5L Group':datum.value=='P'?'Log rank P= 0.037':datum.value=='NH'?'n(high)= 535':'n(low)= 535'"}}}},
{"data":{"name":"ci"},"transform":[{"filter":"datum.p=='I'"}],"mark":{"type":"line","interpolate":"step-after","strokeWidth":0.8,"strokeDash":[1,1.5],"opacity":0.5},"encoding":{"x":{"field":"t","type":"quantitative","scale":{"domain":[0,295],"nice":false},"axis":null},"y":{"field":"s","type":"quantitative","scale":{"domain":[-0.04,1.04],"nice":false},"axis":null},"color":{"field":"g","type":"nominal","scale":{"domain":["L","H","P","NH","NL"]}},"detail":{"field":"b"}}},
{"data":{"name":"cen"},"transform":[{"filter":"datum.p=='I'"}],"mark":{"type":"point","shape":"M-1,0L1,0M0,-1L0,1","size":25,"strokeWidth":0.8,"filled":false,"opacity":1},"encoding":{"x":{"field":"t","type":"quantitative","scale":{"domain":[0,295],"nice":false},"axis":{"orient":"top","title":"BRCA","labels":false,"ticks":false,"titleFontSize":9.5,"titlePadding":1}},"y":{"field":"s","type":"quantitative","scale":{"domain":[-0.04,1.04],"nice":false},"axis":null},"color":{"field":"g","type":"nominal","scale":{"domain":["L","H","P","NH","NL"]}}}}
]},
{"title":"J","width":155,"height":149,"resolve":{"axis":{"x":"independent","y":"independent"}},"layer":[
{"data":{"name":"km"},"transform":[{"filter":"datum.p=='J'"}],"mark":{"type":"line","interpolate":"step-after","strokeWidth":1.2},"encoding":{"x":{"field":"t","type":"quantitative","scale":{"domain":[0,206],"nice":false},"axis":{"values":[0,50,100,150,200],"title":"Months"}},"y":{"field":"s","type":"quantitative","scale":{"domain":[-0.04,1.04],"nice":false},"axis":{"values":[0,0.2,0.4,0.6,0.8,1],"format":".1f","title":"Disease Free Survival","titleFontSize":10}},"color":{"field":"g","type":"nominal","scale":{"domain":["L","H","P","NH","NL"]},"legend":{"title":null,"labelExpr":"datum.value=='L'?'Low IER5L Group':datum.value=='H'?'High IER5L Group':datum.value=='P'?'Log rank P= 0.02':datum.value=='NH'?'n(high)= 140':'n(low)= 141'"}}}},
{"data":{"name":"ci"},"transform":[{"filter":"datum.p=='J'"}],"mark":{"type":"line","interpolate":"step-after","strokeWidth":0.8,"strokeDash":[1,1.5],"opacity":0.5},"encoding":{"x":{"field":"t","type":"quantitative","scale":{"domain":[0,206],"nice":false},"axis":null},"y":{"field":"s","type":"quantitative","scale":{"domain":[-0.04,1.04],"nice":false},"axis":null},"color":{"field":"g","type":"nominal","scale":{"domain":["L","H","P","NH","NL"]}},"detail":{"field":"b"}}},
{"data":{"name":"cen"},"transform":[{"filter":"datum.p=='J'"}],"mark":{"type":"point","shape":"M-1,0L1,0M0,-1L0,1","size":25,"strokeWidth":0.8,"filled":false,"opacity":1},"encoding":{"x":{"field":"t","type":"quantitative","scale":{"domain":[0,206],"nice":false},"axis":{"orient":"top","title":"KIRP","labels":false,"ticks":false,"titleFontSize":9.5,"titlePadding":1}},"y":{"field":"s","type":"quantitative","scale":{"domain":[-0.04,1.04],"nice":false},"axis":null},"color":{"field":"g","type":"nominal","scale":{"domain":["L","H","P","NH","NL"]}}}}
]},
{"title":"K","width":155,"height":149,"resolve":{"axis":{"x":"independent","y":"independent"}},"layer":[
{"data":{"name":"km"},"transform":[{"filter":"datum.p=='K'"}],"mark":{"type":"line","interpolate":"step-after","strokeWidth":1.2},"encoding":{"x":{"field":"t","type":"quantitative","scale":{"domain":[0,250],"nice":false},"axis":{"values":[0,50,100,150,200,250],"title":"Months"}},"y":{"field":"s","type":"quantitative","scale":{"domain":[-0.04,1.04],"nice":false},"axis":{"values":[0,0.2,0.4,0.6,0.8,1],"format":".1f","title":"Disease Free Survival","titleFontSize":10}},"color":{"field":"g","type":"nominal","scale":{"domain":["L","H","P","NH","NL"]},"legend":{"title":null,"labelExpr":"datum.value=='L'?'Low IER5L Group':datum.value=='H'?'High IER5L Group':datum.value=='P'?'Log rank P= 0.007':datum.value=='NH'?'n(high)= 480':'n(low)= 479'"}}}},
{"data":{"name":"ci"},"transform":[{"filter":"datum.p=='K'"}],"mark":{"type":"line","interpolate":"step-after","strokeWidth":0.8,"strokeDash":[1,1.5],"opacity":0.5},"encoding":{"x":{"field":"t","type":"quantitative","scale":{"domain":[0,250],"nice":false},"axis":null},"y":{"field":"s","type":"quantitative","scale":{"domain":[-0.04,1.04],"nice":false},"axis":null},"color":{"field":"g","type":"nominal","scale":{"domain":["L","H","P","NH","NL"]}},"detail":{"field":"b"}}},
{"data":{"name":"cen"},"transform":[{"filter":"datum.p=='K'"}],"mark":{"type":"point","shape":"M-1,0L1,0M0,-1L0,1","size":25,"strokeWidth":0.8,"filled":false,"opacity":1},"encoding":{"x":{"field":"t","type":"quantitative","scale":{"domain":[0,250],"nice":false},"axis":{"orient":"top","title":"NSCLC","labels":false,"ticks":false,"titleFontSize":9.5,"titlePadding":1}},"y":{"field":"s","type":"quantitative","scale":{"domain":[-0.04,1.04],"nice":false},"axis":null},"color":{"field":"g","type":"nominal","scale":{"domain":["L","H","P","NH","NL"]}}}}
]},
{"title":"L","width":155,"height":149,"resolve":{"axis":{"x":"independent","y":"independent"}},"layer":[
{"data":{"name":"km"},"transform":[{"filter":"datum.p=='L'"}],"mark":{"type":"line","interpolate":"step-after","strokeWidth":1.2},"encoding":{"x":{"field":"t","type":"quantitative","scale":{"domain":[0,95],"nice":false},"axis":{"values":[0,20,40,60,80],"title":"Months"}},"y":{"field":"s","type":"quantitative","scale":{"domain":[-0.04,1.04],"nice":false},"axis":{"values":[0,0.2,0.4,0.6,0.8,1],"format":".1f","title":"Disease Free Survival","titleFontSize":10}},"color":{"field":"g","type":"nominal","scale":{"domain":["L","H","P","NH","NL"]},"legend":{"title":null,"labelExpr":"datum.value=='L'?'Low IER5L Group':datum.value=='H'?'High IER5L Group':datum.value=='P'?'Log rank P= 0.063':datum.value=='NH'?'n(high)= 89':'n(low)= 89'"}}}},
{"data":{"name":"ci"},"transform":[{"filter":"datum.p=='L'"}],"mark":{"type":"line","interpolate":"step-after","strokeWidth":0.8,"strokeDash":[1,1.5],"opacity":0.5},"encoding":{"x":{"field":"t","type":"quantitative","scale":{"domain":[0,95],"nice":false},"axis":null},"y":{"field":"s","type":"quantitative","scale":{"domain":[-0.04,1.04],"nice":false},"axis":null},"color":{"field":"g","type":"nominal","scale":{"domain":["L","H","P","NH","NL"]}},"detail":{"field":"b"}}},
{"data":{"name":"cen"},"transform":[{"filter":"datum.p=='L'"}],"mark":{"type":"point","shape":"M-1,0L1,0M0,-1L0,1","size":25,"strokeWidth":0.8,"filled":false,"opacity":1},"encoding":{"x":{"field":"t","type":"quantitative","scale":{"domain":[0,95],"nice":false},"axis":{"orient":"top","title":"PAAD","labels":false,"ticks":false,"titleFontSize":9.5,"titlePadding":1}},"y":{"field":"s","type":"quantitative","scale":{"domain":[-0.04,1.04],"nice":false},"axis":null},"color":{"field":"g","type":"nominal","scale":{"domain":["L","H","P","NH","NL"]}}}}
]}
],"spacing":6,"resolve":{"scale":{"color":"independent"},"legend":{"color":"independent"}}},
{"hconcat":[
{"title":"M","width":155,"height":147,"resolve":{"axis":{"x":"independent","y":"independent"}},"layer":[
{"data":{"name":"km"},"transform":[{"filter":"datum.p=='M'"}],"mark":{"type":"line","interpolate":"step-after","strokeWidth":1.2},"encoding":{"x":{"field":"t","type":"quantitative","scale":{"domain":[0,152],"nice":false},"axis":{"values":[0,50,100,150],"title":"Months"}},"y":{"field":"s","type":"quantitative","scale":{"domain":[-0.04,1.04],"nice":false},"axis":{"values":[0,0.2,0.4,0.6,0.8,1],"format":".1f","title":"Disease Free Survival","titleFontSize":10}},"color":{"field":"g","type":"nominal","scale":{"domain":["L","H","P","NH","NL"]},"legend":{"title":null,"labelExpr":"datum.value=='L'?'Low IER5L Group':datum.value=='H'?'High IER5L Group':datum.value=='P'?'Log rank P< 0.001':datum.value=='NH'?'n(high)= 246':'n(low)= 246'"}}}},
{"data":{"name":"ci"},"transform":[{"filter":"datum.p=='M'"}],"mark":{"type":"line","interpolate":"step-after","strokeWidth":0.8,"strokeDash":[1,1.5],"opacity":0.5},"encoding":{"x":{"field":"t","type":"quantitative","scale":{"domain":[0,152],"nice":false},"axis":null},"y":{"field":"s","type":"quantitative","scale":{"domain":[-0.04,1.04],"nice":false},"axis":null},"color":{"field":"g","type":"nominal","scale":{"domain":["L","H","P","NH","NL"]}},"detail":{"field":"b"}}},
{"data":{"name":"cen"},"transform":[{"filter":"datum.p=='M'"}],"mark":{"type":"point","shape":"M-1,0L1,0M0,-1L0,1","size":25,"strokeWidth":0.8,"filled":false,"opacity":1},"encoding":{"x":{"field":"t","type":"quantitative","scale":{"domain":[0,152],"nice":false},"axis":{"orient":"top","title":"PRAD","labels":false,"ticks":false,"titleFontSize":9.5,"titlePadding":1}},"y":{"field":"s","type":"quantitative","scale":{"domain":[-0.04,1.04],"nice":false},"axis":null},"color":{"field":"g","type":"nominal","scale":{"domain":["L","H","P","NH","NL"]}}}}
]},
{"title":"N","width":155,"height":147,"resolve":{"axis":{"x":"independent","y":"independent"}},"layer":[
{"data":{"name":"km"},"transform":[{"filter":"datum.p=='N'"}],"mark":{"type":"line","interpolate":"step-after","strokeWidth":1.2},"encoding":{"x":{"field":"t","type":"quantitative","scale":{"domain":[0,135],"nice":false},"axis":{"values":[0,20,40,60,80,100,120],"title":"Months"}},"y":{"field":"s","type":"quantitative","scale":{"domain":[-0.04,1.04],"nice":false},"axis":{"values":[0,0.2,0.4,0.6,0.8,1],"format":".1f","title":"Disease Free Survival","titleFontSize":10}},"color":{"field":"g","type":"nominal","scale":{"domain":["L","H","P","NH","NL"]},"legend":{"title":null,"labelExpr":"datum.value=='L'?'Low IER5L Group':datum.value=='H'?'High IER5L Group':datum.value=='P'?'Log rank P= 0.047':datum.value=='NH'?'n(high)= 46':'n(low)= 46'"}}}},
{"data":{"name":"ci"},"transform":[{"filter":"datum.p=='N'"}],"mark":{"type":"line","interpolate":"step-after","strokeWidth":0.8,"strokeDash":[1,1.5],"opacity":0.5},"encoding":{"x":{"field":"t","type":"quantitative","scale":{"domain":[0,135],"nice":false},"axis":null},"y":{"field":"s","type":"quantitative","scale":{"domain":[-0.04,1.04],"nice":false},"axis":null},"color":{"field":"g","type":"nominal","scale":{"domain":["L","H","P","NH","NL"]}},"detail":{"field":"b"}}},
{"data":{"name":"cen"},"transform":[{"filter":"datum.p=='N'"}],"mark":{"type":"point","shape":"M-1,0L1,0M0,-1L0,1","size":25,"strokeWidth":0.8,"filled":false,"opacity":1},"encoding":{"x":{"field":"t","type":"quantitative","scale":{"domain":[0,135],"nice":false},"axis":{"orient":"top","title":"READ","labels":false,"ticks":false,"titleFontSize":9.5,"titlePadding":1}},"y":{"field":"s","type":"quantitative","scale":{"domain":[-0.04,1.04],"nice":false},"axis":null},"color":{"field":"g","type":"nominal","scale":{"domain":["L","H","P","NH","NL"]}}}}
]},
{"title":"O","width":155,"height":147,"resolve":{"axis":{"x":"independent","y":"independent"}},"layer":[
{"data":{"name":"km"},"transform":[{"filter":"datum.p=='O'"}],"mark":{"type":"line","interpolate":"step-after","strokeWidth":1.2},"encoding":{"x":{"field":"t","type":"quantitative","scale":{"domain":[0,88],"nice":false},"axis":{"values":[0,20,40,60,80],"title":"Months"}},"y":{"field":"s","type":"quantitative","scale":{"domain":[-0.04,1.04],"nice":false},"axis":{"values":[0,0.2,0.4,0.6,0.8,1],"format":".1f","title":"Disease Free Survival","titleFontSize":10}},"color":{"field":"g","type":"nominal","scale":{"domain":["L","H","P","NH","NL"]},"legend":{"title":null,"labelExpr":"datum.value=='L'?'Low IER5L Group':datum.value=='H'?'High IER5L Group':datum.value=='P'?'Log rank P= 0.026':datum.value=='NH'?'n(high)= 39':'n(low)= 39'"}}}},
{"data":{"name":"ci"},"transform":[{"filter":"datum.p=='O'"}],"mark":{"type":"line","interpolate":"step-after","strokeWidth":0.8,"strokeDash":[1,1.5],"opacity":0.5},"encoding":{"x":{"field":"t","type":"quantitative","scale":{"domain":[0,88],"nice":false},"axis":null},"y":{"field":"s","type":"quantitative","scale":{"domain":[-0.04,1.04],"nice":false},"axis":null},"color":{"field":"g","type":"nominal","scale":{"domain":["L","H","P","NH","NL"]}},"detail":{"field":"b"}}},
{"data":{"name":"cen"},"transform":[{"filter":"datum.p=='O'"}],"mark":{"type":"point","shape":"M-1,0L1,0M0,-1L0,1","size":25,"strokeWidth":0.8,"filled":false,"opacity":1},"encoding":{"x":{"field":"t","type":"quantitative","scale":{"domain":[0,88],"nice":false},"axis":{"orient":"top","title":"UVM","labels":false,"ticks":false,"titleFontSize":9.5,"titlePadding":1}},"y":{"field":"s","type":"quantitative","scale":{"domain":[-0.04,1.04],"nice":false},"axis":null},"color":{"field":"g","type":"nominal","scale":{"domain":["L","H","P","NH","NL"]}}}}
]}
],"spacing":6,"resolve":{"scale":{"color":"independent"},"legend":{"color":"independent"}}}
]
}
